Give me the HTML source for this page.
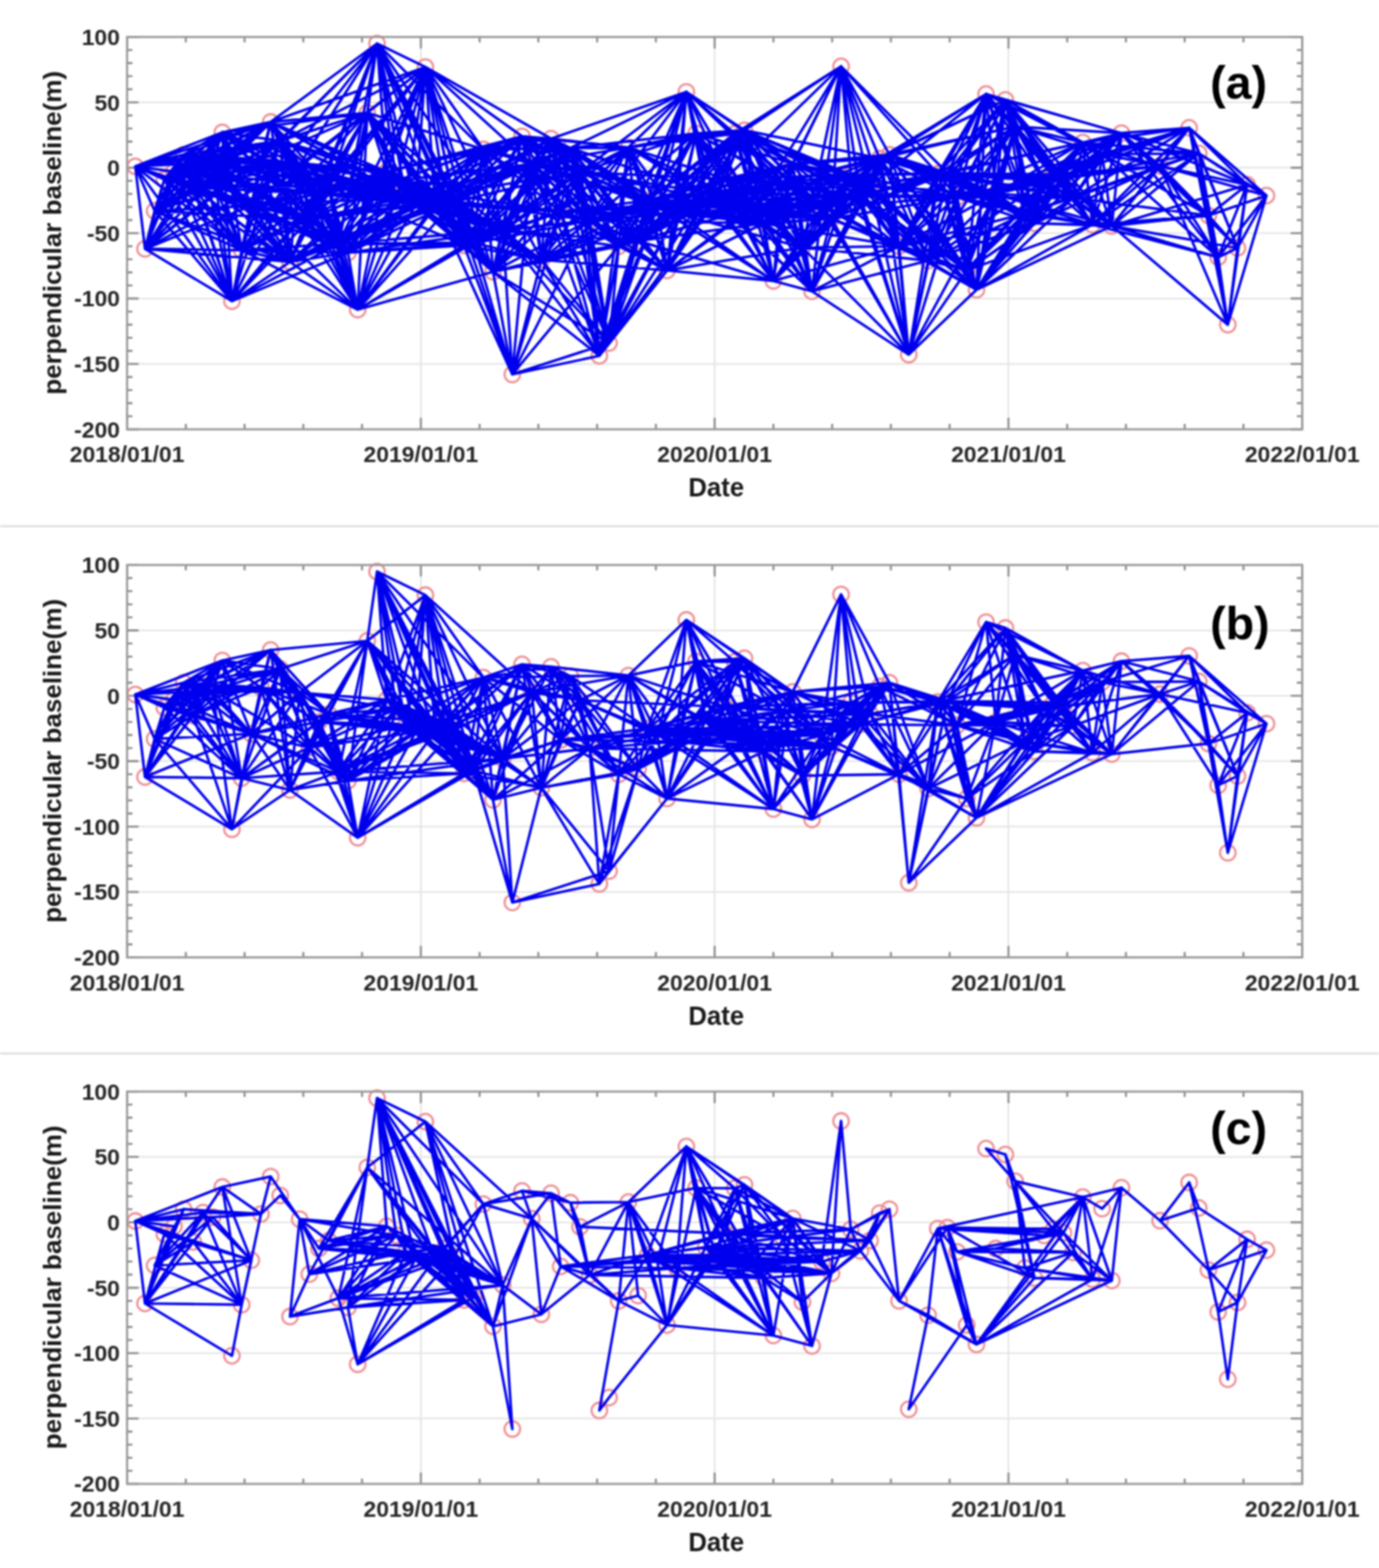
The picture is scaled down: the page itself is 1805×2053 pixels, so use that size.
<!DOCTYPE html>
<html><head><meta charset="utf-8"><title>Interferogram networks</title>
<style>html,body{margin:0;padding:0;background:#fff;}svg{display:block;filter:blur(0.8px);}</style>
</head><body>
<svg width="1805" height="2053" viewBox="0 0 1805 2053" font-family="&quot;Liberation Sans&quot;, Arial, sans-serif">
<rect width="1805" height="2053" fill="#fff"/>
<path d="M0 689H1805M0 1379.2H1805" stroke="#dcdcdc" stroke-width="2.5"/>
<path d="M550.9 48.4V562.1M935.4 48.4V562.1M1320.0 48.4V562.1M166.3 134.0H1704.5M166.3 219.6H1704.5M166.3 305.2H1704.5M166.3 390.9H1704.5M166.3 476.5H1704.5" stroke="#e3e3e3" stroke-width="2" fill="none"/>
<path d="M166.3 562.1v-15M166.3 48.4v15M243.2 562.1v-7M243.2 48.4v7M320.1 562.1v-7M320.1 48.4v7M397.0 562.1v-7M397.0 48.4v7M473.9 562.1v-7M473.9 48.4v7M550.9 562.1v-15M550.9 48.4v15M627.8 562.1v-7M627.8 48.4v7M704.7 562.1v-7M704.7 48.4v7M781.6 562.1v-7M781.6 48.4v7M858.5 562.1v-7M858.5 48.4v7M935.4 562.1v-15M935.4 48.4v15M1012.3 562.1v-7M1012.3 48.4v7M1089.2 562.1v-7M1089.2 48.4v7M1166.1 562.1v-7M1166.1 48.4v7M1243.0 562.1v-7M1243.0 48.4v7M1320.0 562.1v-15M1320.0 48.4v15M1396.9 562.1v-7M1396.9 48.4v7M1473.8 562.1v-7M1473.8 48.4v7M1550.7 562.1v-7M1550.7 48.4v7M1627.6 562.1v-7M1627.6 48.4v7M1704.5 562.1v-15M1704.5 48.4v15M166.3 48.4h15M1704.5 48.4h-15M166.3 65.5h7M1704.5 65.5h-7M166.3 82.6h7M1704.5 82.6h-7M166.3 99.8h7M1704.5 99.8h-7M166.3 116.9h7M1704.5 116.9h-7M166.3 134.0h15M1704.5 134.0h-15M166.3 151.1h7M1704.5 151.1h-7M166.3 168.3h7M1704.5 168.3h-7M166.3 185.4h7M1704.5 185.4h-7M166.3 202.5h7M1704.5 202.5h-7M166.3 219.6h15M1704.5 219.6h-15M166.3 236.8h7M1704.5 236.8h-7M166.3 253.9h7M1704.5 253.9h-7M166.3 271.0h7M1704.5 271.0h-7M166.3 288.1h7M1704.5 288.1h-7M166.3 305.2h15M1704.5 305.2h-15M166.3 322.4h7M1704.5 322.4h-7M166.3 339.5h7M1704.5 339.5h-7M166.3 356.6h7M1704.5 356.6h-7M166.3 373.7h7M1704.5 373.7h-7M166.3 390.9h15M1704.5 390.9h-15M166.3 408.0h7M1704.5 408.0h-7M166.3 425.1h7M1704.5 425.1h-7M166.3 442.2h7M1704.5 442.2h-7M166.3 459.4h7M1704.5 459.4h-7M166.3 476.5h15M1704.5 476.5h-15M166.3 493.6h7M1704.5 493.6h-7M166.3 510.7h7M1704.5 510.7h-7M166.3 527.9h7M1704.5 527.9h-7M166.3 545.0h7M1704.5 545.0h-7M166.3 562.1h15M1704.5 562.1h-15" stroke="#8a8a8a" stroke-width="2.6" fill="none"/>
<g stroke="#ee9096" stroke-width="2.8" fill="none"><circle cx="177.1" cy="217.9" r="10.2"/><circle cx="189.8" cy="325.8" r="10.2"/><circle cx="202.4" cy="276.1" r="10.2"/><circle cx="215.1" cy="235.0" r="10.2"/><circle cx="227.7" cy="224.8" r="10.2"/><circle cx="240.4" cy="202.5" r="10.2"/><circle cx="253.0" cy="245.3" r="10.2"/><circle cx="265.7" cy="206.8" r="10.2"/><circle cx="278.3" cy="212.8" r="10.2"/><circle cx="291.0" cy="173.4" r="10.2"/><circle cx="303.6" cy="394.3" r="10.2"/><circle cx="316.3" cy="327.5" r="10.2"/><circle cx="329.0" cy="269.3" r="10.2"/><circle cx="341.6" cy="208.7" r="10.2"/><circle cx="354.3" cy="159.7" r="10.2"/><circle cx="366.9" cy="184.5" r="10.2"/><circle cx="379.6" cy="342.9" r="10.2"/><circle cx="392.2" cy="215.5" r="10.2"/><circle cx="404.9" cy="287.4" r="10.2"/><circle cx="417.5" cy="253.9" r="10.2"/><circle cx="430.2" cy="243.6" r="10.2"/><circle cx="442.9" cy="318.9" r="10.2"/><circle cx="455.5" cy="330.9" r="10.2"/><circle cx="468.2" cy="405.4" r="10.2"/><circle cx="480.8" cy="147.7" r="10.2"/><circle cx="493.5" cy="57.0" r="10.2"/><circle cx="506.1" cy="224.8" r="10.2"/><circle cx="518.8" cy="236.8" r="10.2"/><circle cx="531.4" cy="258.2" r="10.2"/><circle cx="544.1" cy="267.2" r="10.2"/><circle cx="556.8" cy="87.8" r="10.2"/><circle cx="569.4" cy="266.7" r="10.2"/><circle cx="582.1" cy="253.9" r="10.2"/><circle cx="594.7" cy="264.2" r="10.2"/><circle cx="607.4" cy="321.2" r="10.2"/><circle cx="620.0" cy="317.8" r="10.2"/><circle cx="632.7" cy="195.7" r="10.2"/><circle cx="645.3" cy="355.8" r="10.2"/><circle cx="658.0" cy="301.8" r="10.2"/><circle cx="670.6" cy="490.2" r="10.2"/><circle cx="683.3" cy="178.5" r="10.2"/><circle cx="696.0" cy="214.8" r="10.2"/><circle cx="708.6" cy="340.0" r="10.2"/><circle cx="721.3" cy="181.6" r="10.2"/><circle cx="733.9" cy="277.3" r="10.2"/><circle cx="746.6" cy="193.9" r="10.2"/><circle cx="759.2" cy="225.5" r="10.2"/><circle cx="771.9" cy="288.5" r="10.2"/><circle cx="784.5" cy="465.9" r="10.2"/><circle cx="797.2" cy="449.1" r="10.2"/><circle cx="809.9" cy="322.4" r="10.2"/><circle cx="822.5" cy="193.1" r="10.2"/><circle cx="835.2" cy="315.5" r="10.2"/><circle cx="847.8" cy="262.4" r="10.2"/><circle cx="860.5" cy="271.0" r="10.2"/><circle cx="873.1" cy="354.1" r="10.2"/><circle cx="885.8" cy="279.6" r="10.2"/><circle cx="898.4" cy="120.3" r="10.2"/><circle cx="911.1" cy="174.6" r="10.2"/><circle cx="923.7" cy="252.2" r="10.2"/><circle cx="936.4" cy="262.4" r="10.2"/><circle cx="949.1" cy="234.2" r="10.2"/><circle cx="961.7" cy="175.1" r="10.2"/><circle cx="974.4" cy="170.5" r="10.2"/><circle cx="987.0" cy="271.9" r="10.2"/><circle cx="999.7" cy="292.4" r="10.2"/><circle cx="1012.3" cy="367.8" r="10.2"/><circle cx="1025.0" cy="239.5" r="10.2"/><circle cx="1037.6" cy="214.5" r="10.2"/><circle cx="1050.3" cy="324.1" r="10.2"/><circle cx="1062.9" cy="381.4" r="10.2"/><circle cx="1075.6" cy="271.0" r="10.2"/><circle cx="1088.3" cy="286.4" r="10.2"/><circle cx="1100.9" cy="86.9" r="10.2"/><circle cx="1113.6" cy="228.9" r="10.2"/><circle cx="1126.2" cy="257.0" r="10.2"/><circle cx="1138.9" cy="243.4" r="10.2"/><circle cx="1151.5" cy="207.5" r="10.2"/><circle cx="1164.2" cy="202.5" r="10.2"/><circle cx="1176.8" cy="322.4" r="10.2"/><circle cx="1189.5" cy="464.3" r="10.2"/><circle cx="1214.8" cy="341.2" r="10.2"/><circle cx="1227.5" cy="227.7" r="10.2"/><circle cx="1240.1" cy="226.5" r="10.2"/><circle cx="1252.8" cy="258.2" r="10.2"/><circle cx="1265.4" cy="354.1" r="10.2"/><circle cx="1278.1" cy="379.4" r="10.2"/><circle cx="1290.7" cy="123.1" r="10.2"/><circle cx="1303.4" cy="253.9" r="10.2"/><circle cx="1316.0" cy="130.8" r="10.2"/><circle cx="1328.7" cy="165.7" r="10.2"/><circle cx="1341.4" cy="279.6" r="10.2"/><circle cx="1354.0" cy="292.4" r="10.2"/><circle cx="1366.7" cy="236.8" r="10.2"/><circle cx="1379.3" cy="228.2" r="10.2"/><circle cx="1392.0" cy="233.3" r="10.2"/><circle cx="1404.6" cy="259.0" r="10.2"/><circle cx="1417.3" cy="186.6" r="10.2"/><circle cx="1429.9" cy="294.1" r="10.2"/><circle cx="1442.6" cy="201.7" r="10.2"/><circle cx="1455.3" cy="295.8" r="10.2"/><circle cx="1467.9" cy="174.3" r="10.2"/><circle cx="1518.5" cy="217.4" r="10.2"/><circle cx="1556.5" cy="167.4" r="10.2"/><circle cx="1569.1" cy="200.8" r="10.2"/><circle cx="1581.8" cy="282.1" r="10.2"/><circle cx="1594.5" cy="336.9" r="10.2"/><circle cx="1607.1" cy="425.1" r="10.2"/><circle cx="1619.8" cy="324.6" r="10.2"/><circle cx="1632.4" cy="241.9" r="10.2"/><circle cx="1657.7" cy="256.1" r="10.2"/></g>
<path d="M177.1 217.9L189.8 325.8M177.1 217.9L202.4 276.1M177.1 217.9L215.1 235.0M177.1 217.9L227.7 224.8M177.1 217.9L240.4 202.5M177.1 217.9L253.0 245.3M177.1 217.9L265.7 206.8M177.1 217.9L278.3 212.8M177.1 217.9L291.0 173.4M177.1 217.9L303.6 394.3M177.1 217.9L316.3 327.5M177.1 217.9L329.0 269.3M177.1 217.9L341.6 208.7M177.1 217.9L354.3 159.7M177.1 217.9L366.9 184.5M189.8 325.8L202.4 276.1M189.8 325.8L215.1 235.0M189.8 325.8L227.7 224.8M189.8 325.8L240.4 202.5M189.8 325.8L253.0 245.3M189.8 325.8L265.7 206.8M189.8 325.8L278.3 212.8M189.8 325.8L291.0 173.4M189.8 325.8L303.6 394.3M189.8 325.8L316.3 327.5M189.8 325.8L329.0 269.3M189.8 325.8L341.6 208.7M189.8 325.8L354.3 159.7M189.8 325.8L366.9 184.5M189.8 325.8L379.6 342.9M189.8 325.8L392.2 215.5M202.4 276.1L215.1 235.0M202.4 276.1L227.7 224.8M202.4 276.1L240.4 202.5M202.4 276.1L253.0 245.3M202.4 276.1L265.7 206.8M202.4 276.1L278.3 212.8M202.4 276.1L291.0 173.4M202.4 276.1L303.6 394.3M202.4 276.1L316.3 327.5M202.4 276.1L329.0 269.3M202.4 276.1L341.6 208.7M202.4 276.1L354.3 159.7M202.4 276.1L366.9 184.5M202.4 276.1L379.6 342.9M202.4 276.1L392.2 215.5M202.4 276.1L404.9 287.4M215.1 235.0L227.7 224.8M215.1 235.0L240.4 202.5M215.1 235.0L253.0 245.3M215.1 235.0L265.7 206.8M215.1 235.0L278.3 212.8M215.1 235.0L291.0 173.4M215.1 235.0L303.6 394.3M215.1 235.0L316.3 327.5M215.1 235.0L329.0 269.3M215.1 235.0L341.6 208.7M215.1 235.0L354.3 159.7M215.1 235.0L366.9 184.5M215.1 235.0L379.6 342.9M215.1 235.0L392.2 215.5M215.1 235.0L404.9 287.4M215.1 235.0L417.5 253.9M227.7 224.8L240.4 202.5M227.7 224.8L253.0 245.3M227.7 224.8L265.7 206.8M227.7 224.8L278.3 212.8M227.7 224.8L291.0 173.4M227.7 224.8L303.6 394.3M227.7 224.8L316.3 327.5M227.7 224.8L329.0 269.3M227.7 224.8L341.6 208.7M227.7 224.8L354.3 159.7M227.7 224.8L366.9 184.5M227.7 224.8L379.6 342.9M227.7 224.8L392.2 215.5M227.7 224.8L404.9 287.4M227.7 224.8L417.5 253.9M227.7 224.8L430.2 243.6M240.4 202.5L253.0 245.3M240.4 202.5L265.7 206.8M240.4 202.5L278.3 212.8M240.4 202.5L291.0 173.4M240.4 202.5L303.6 394.3M240.4 202.5L316.3 327.5M240.4 202.5L329.0 269.3M240.4 202.5L341.6 208.7M240.4 202.5L354.3 159.7M240.4 202.5L366.9 184.5M240.4 202.5L379.6 342.9M240.4 202.5L392.2 215.5M240.4 202.5L404.9 287.4M240.4 202.5L417.5 253.9M240.4 202.5L430.2 243.6M253.0 245.3L265.7 206.8M253.0 245.3L278.3 212.8M253.0 245.3L291.0 173.4M253.0 245.3L303.6 394.3M253.0 245.3L316.3 327.5M253.0 245.3L329.0 269.3M253.0 245.3L341.6 208.7M253.0 245.3L354.3 159.7M253.0 245.3L366.9 184.5M253.0 245.3L379.6 342.9M253.0 245.3L392.2 215.5M253.0 245.3L404.9 287.4M253.0 245.3L417.5 253.9M253.0 245.3L430.2 243.6M253.0 245.3L442.9 318.9M253.0 245.3L455.5 330.9M265.7 206.8L278.3 212.8M265.7 206.8L291.0 173.4M265.7 206.8L303.6 394.3M265.7 206.8L316.3 327.5M265.7 206.8L329.0 269.3M265.7 206.8L341.6 208.7M265.7 206.8L354.3 159.7M265.7 206.8L366.9 184.5M265.7 206.8L379.6 342.9M265.7 206.8L392.2 215.5M265.7 206.8L404.9 287.4M265.7 206.8L417.5 253.9M265.7 206.8L430.2 243.6M265.7 206.8L442.9 318.9M265.7 206.8L455.5 330.9M278.3 212.8L291.0 173.4M278.3 212.8L303.6 394.3M278.3 212.8L316.3 327.5M278.3 212.8L329.0 269.3M278.3 212.8L341.6 208.7M278.3 212.8L354.3 159.7M278.3 212.8L366.9 184.5M278.3 212.8L379.6 342.9M278.3 212.8L392.2 215.5M278.3 212.8L404.9 287.4M278.3 212.8L417.5 253.9M278.3 212.8L430.2 243.6M278.3 212.8L442.9 318.9M278.3 212.8L455.5 330.9M278.3 212.8L480.8 147.7M291.0 173.4L303.6 394.3M291.0 173.4L316.3 327.5M291.0 173.4L329.0 269.3M291.0 173.4L341.6 208.7M291.0 173.4L354.3 159.7M291.0 173.4L366.9 184.5M291.0 173.4L379.6 342.9M291.0 173.4L392.2 215.5M291.0 173.4L404.9 287.4M291.0 173.4L417.5 253.9M291.0 173.4L430.2 243.6M291.0 173.4L442.9 318.9M291.0 173.4L455.5 330.9M291.0 173.4L480.8 147.7M303.6 394.3L316.3 327.5M303.6 394.3L329.0 269.3M303.6 394.3L341.6 208.7M303.6 394.3L354.3 159.7M303.6 394.3L366.9 184.5M303.6 394.3L379.6 342.9M303.6 394.3L392.2 215.5M303.6 394.3L404.9 287.4M303.6 394.3L417.5 253.9M303.6 394.3L430.2 243.6M303.6 394.3L442.9 318.9M303.6 394.3L455.5 330.9M316.3 327.5L329.0 269.3M316.3 327.5L341.6 208.7M316.3 327.5L354.3 159.7M316.3 327.5L366.9 184.5M316.3 327.5L379.6 342.9M316.3 327.5L392.2 215.5M316.3 327.5L404.9 287.4M316.3 327.5L417.5 253.9M316.3 327.5L430.2 243.6M316.3 327.5L442.9 318.9M316.3 327.5L455.5 330.9M316.3 327.5L468.2 405.4M316.3 327.5L480.8 147.7M316.3 327.5L506.1 224.8M316.3 327.5L518.8 236.8M329.0 269.3L341.6 208.7M329.0 269.3L354.3 159.7M329.0 269.3L366.9 184.5M329.0 269.3L379.6 342.9M329.0 269.3L392.2 215.5M329.0 269.3L404.9 287.4M329.0 269.3L417.5 253.9M329.0 269.3L430.2 243.6M329.0 269.3L442.9 318.9M329.0 269.3L455.5 330.9M329.0 269.3L468.2 405.4M329.0 269.3L480.8 147.7M329.0 269.3L493.5 57.0M329.0 269.3L506.1 224.8M329.0 269.3L518.8 236.8M329.0 269.3L531.4 258.2M341.6 208.7L354.3 159.7M341.6 208.7L366.9 184.5M341.6 208.7L379.6 342.9M341.6 208.7L392.2 215.5M341.6 208.7L404.9 287.4M341.6 208.7L417.5 253.9M341.6 208.7L430.2 243.6M341.6 208.7L442.9 318.9M341.6 208.7L455.5 330.9M341.6 208.7L468.2 405.4M341.6 208.7L480.8 147.7M341.6 208.7L493.5 57.0M341.6 208.7L506.1 224.8M341.6 208.7L518.8 236.8M341.6 208.7L531.4 258.2M341.6 208.7L544.1 267.2M354.3 159.7L366.9 184.5M354.3 159.7L379.6 342.9M354.3 159.7L392.2 215.5M354.3 159.7L404.9 287.4M354.3 159.7L417.5 253.9M354.3 159.7L430.2 243.6M354.3 159.7L442.9 318.9M354.3 159.7L455.5 330.9M354.3 159.7L468.2 405.4M354.3 159.7L480.8 147.7M354.3 159.7L493.5 57.0M354.3 159.7L506.1 224.8M354.3 159.7L518.8 236.8M354.3 159.7L531.4 258.2M354.3 159.7L544.1 267.2M354.3 159.7L556.8 87.8M366.9 184.5L379.6 342.9M366.9 184.5L392.2 215.5M366.9 184.5L404.9 287.4M366.9 184.5L417.5 253.9M366.9 184.5L430.2 243.6M366.9 184.5L442.9 318.9M366.9 184.5L455.5 330.9M366.9 184.5L468.2 405.4M366.9 184.5L480.8 147.7M366.9 184.5L493.5 57.0M366.9 184.5L506.1 224.8M366.9 184.5L518.8 236.8M366.9 184.5L531.4 258.2M366.9 184.5L544.1 267.2M366.9 184.5L556.8 87.8M379.6 342.9L392.2 215.5M379.6 342.9L404.9 287.4M379.6 342.9L417.5 253.9M379.6 342.9L430.2 243.6M379.6 342.9L442.9 318.9M379.6 342.9L455.5 330.9M379.6 342.9L468.2 405.4M379.6 342.9L480.8 147.7M379.6 342.9L493.5 57.0M379.6 342.9L506.1 224.8M379.6 342.9L518.8 236.8M379.6 342.9L531.4 258.2M379.6 342.9L544.1 267.2M392.2 215.5L404.9 287.4M392.2 215.5L417.5 253.9M392.2 215.5L430.2 243.6M392.2 215.5L442.9 318.9M392.2 215.5L455.5 330.9M392.2 215.5L468.2 405.4M392.2 215.5L480.8 147.7M392.2 215.5L493.5 57.0M392.2 215.5L506.1 224.8M392.2 215.5L518.8 236.8M392.2 215.5L531.4 258.2M392.2 215.5L544.1 267.2M392.2 215.5L556.8 87.8M392.2 215.5L569.4 266.7M404.9 287.4L417.5 253.9M404.9 287.4L430.2 243.6M404.9 287.4L442.9 318.9M404.9 287.4L455.5 330.9M404.9 287.4L468.2 405.4M404.9 287.4L480.8 147.7M404.9 287.4L493.5 57.0M404.9 287.4L506.1 224.8M404.9 287.4L518.8 236.8M404.9 287.4L531.4 258.2M404.9 287.4L544.1 267.2M404.9 287.4L556.8 87.8M404.9 287.4L569.4 266.7M404.9 287.4L582.1 253.9M417.5 253.9L430.2 243.6M417.5 253.9L442.9 318.9M417.5 253.9L455.5 330.9M417.5 253.9L468.2 405.4M417.5 253.9L480.8 147.7M417.5 253.9L493.5 57.0M417.5 253.9L506.1 224.8M417.5 253.9L518.8 236.8M417.5 253.9L531.4 258.2M417.5 253.9L544.1 267.2M417.5 253.9L556.8 87.8M417.5 253.9L569.4 266.7M417.5 253.9L582.1 253.9M417.5 253.9L594.7 264.2M430.2 243.6L442.9 318.9M430.2 243.6L455.5 330.9M430.2 243.6L468.2 405.4M430.2 243.6L480.8 147.7M430.2 243.6L493.5 57.0M430.2 243.6L506.1 224.8M430.2 243.6L518.8 236.8M430.2 243.6L531.4 258.2M430.2 243.6L544.1 267.2M430.2 243.6L556.8 87.8M430.2 243.6L569.4 266.7M430.2 243.6L582.1 253.9M430.2 243.6L594.7 264.2M430.2 243.6L607.4 321.2M442.9 318.9L455.5 330.9M442.9 318.9L468.2 405.4M442.9 318.9L480.8 147.7M442.9 318.9L493.5 57.0M442.9 318.9L506.1 224.8M442.9 318.9L518.8 236.8M442.9 318.9L531.4 258.2M442.9 318.9L544.1 267.2M442.9 318.9L556.8 87.8M442.9 318.9L569.4 266.7M442.9 318.9L582.1 253.9M442.9 318.9L594.7 264.2M442.9 318.9L607.4 321.2M442.9 318.9L620.0 317.8M442.9 318.9L658.0 301.8M455.5 330.9L468.2 405.4M455.5 330.9L480.8 147.7M455.5 330.9L493.5 57.0M455.5 330.9L506.1 224.8M455.5 330.9L518.8 236.8M455.5 330.9L531.4 258.2M455.5 330.9L544.1 267.2M455.5 330.9L556.8 87.8M455.5 330.9L569.4 266.7M455.5 330.9L582.1 253.9M455.5 330.9L594.7 264.2M455.5 330.9L607.4 321.2M455.5 330.9L620.0 317.8M455.5 330.9L658.0 301.8M468.2 405.4L480.8 147.7M468.2 405.4L506.1 224.8M468.2 405.4L518.8 236.8M468.2 405.4L531.4 258.2M468.2 405.4L544.1 267.2M468.2 405.4L569.4 266.7M468.2 405.4L582.1 253.9M468.2 405.4L594.7 264.2M468.2 405.4L607.4 321.2M468.2 405.4L620.0 317.8M468.2 405.4L645.3 355.8M480.8 147.7L493.5 57.0M480.8 147.7L506.1 224.8M480.8 147.7L518.8 236.8M480.8 147.7L531.4 258.2M480.8 147.7L544.1 267.2M480.8 147.7L556.8 87.8M480.8 147.7L569.4 266.7M480.8 147.7L582.1 253.9M480.8 147.7L594.7 264.2M480.8 147.7L607.4 321.2M480.8 147.7L620.0 317.8M480.8 147.7L632.7 195.7M480.8 147.7L645.3 355.8M480.8 147.7L658.0 301.8M493.5 57.0L506.1 224.8M493.5 57.0L518.8 236.8M493.5 57.0L531.4 258.2M493.5 57.0L544.1 267.2M493.5 57.0L556.8 87.8M493.5 57.0L569.4 266.7M493.5 57.0L582.1 253.9M493.5 57.0L594.7 264.2M493.5 57.0L607.4 321.2M493.5 57.0L620.0 317.8M493.5 57.0L632.7 195.7M493.5 57.0L645.3 355.8M493.5 57.0L658.0 301.8M506.1 224.8L518.8 236.8M506.1 224.8L531.4 258.2M506.1 224.8L544.1 267.2M506.1 224.8L556.8 87.8M506.1 224.8L569.4 266.7M506.1 224.8L582.1 253.9M506.1 224.8L594.7 264.2M506.1 224.8L607.4 321.2M506.1 224.8L620.0 317.8M506.1 224.8L632.7 195.7M506.1 224.8L645.3 355.8M506.1 224.8L658.0 301.8M506.1 224.8L683.3 178.5M518.8 236.8L531.4 258.2M518.8 236.8L544.1 267.2M518.8 236.8L556.8 87.8M518.8 236.8L569.4 266.7M518.8 236.8L582.1 253.9M518.8 236.8L594.7 264.2M518.8 236.8L607.4 321.2M518.8 236.8L620.0 317.8M518.8 236.8L632.7 195.7M518.8 236.8L645.3 355.8M518.8 236.8L658.0 301.8M518.8 236.8L683.3 178.5M518.8 236.8L696.0 214.8M531.4 258.2L544.1 267.2M531.4 258.2L556.8 87.8M531.4 258.2L569.4 266.7M531.4 258.2L582.1 253.9M531.4 258.2L594.7 264.2M531.4 258.2L607.4 321.2M531.4 258.2L620.0 317.8M531.4 258.2L632.7 195.7M531.4 258.2L645.3 355.8M531.4 258.2L658.0 301.8M531.4 258.2L683.3 178.5M531.4 258.2L696.0 214.8M544.1 267.2L556.8 87.8M544.1 267.2L569.4 266.7M544.1 267.2L582.1 253.9M544.1 267.2L594.7 264.2M544.1 267.2L607.4 321.2M544.1 267.2L620.0 317.8M544.1 267.2L632.7 195.7M544.1 267.2L645.3 355.8M544.1 267.2L658.0 301.8M544.1 267.2L683.3 178.5M544.1 267.2L696.0 214.8M544.1 267.2L708.6 340.0M556.8 87.8L569.4 266.7M556.8 87.8L582.1 253.9M556.8 87.8L594.7 264.2M556.8 87.8L607.4 321.2M556.8 87.8L620.0 317.8M556.8 87.8L632.7 195.7M556.8 87.8L645.3 355.8M556.8 87.8L658.0 301.8M556.8 87.8L683.3 178.5M556.8 87.8L696.0 214.8M556.8 87.8L721.3 181.6M569.4 266.7L582.1 253.9M569.4 266.7L594.7 264.2M569.4 266.7L607.4 321.2M569.4 266.7L620.0 317.8M569.4 266.7L632.7 195.7M569.4 266.7L645.3 355.8M569.4 266.7L658.0 301.8M569.4 266.7L670.6 490.2M569.4 266.7L683.3 178.5M569.4 266.7L696.0 214.8M569.4 266.7L708.6 340.0M569.4 266.7L721.3 181.6M569.4 266.7L733.9 277.3M569.4 266.7L746.6 193.9M582.1 253.9L594.7 264.2M582.1 253.9L607.4 321.2M582.1 253.9L620.0 317.8M582.1 253.9L632.7 195.7M582.1 253.9L645.3 355.8M582.1 253.9L658.0 301.8M582.1 253.9L670.6 490.2M582.1 253.9L683.3 178.5M582.1 253.9L696.0 214.8M582.1 253.9L708.6 340.0M582.1 253.9L721.3 181.6M582.1 253.9L733.9 277.3M582.1 253.9L746.6 193.9M582.1 253.9L759.2 225.5M594.7 264.2L607.4 321.2M594.7 264.2L620.0 317.8M594.7 264.2L632.7 195.7M594.7 264.2L645.3 355.8M594.7 264.2L658.0 301.8M594.7 264.2L670.6 490.2M594.7 264.2L683.3 178.5M594.7 264.2L696.0 214.8M594.7 264.2L708.6 340.0M594.7 264.2L721.3 181.6M594.7 264.2L733.9 277.3M594.7 264.2L746.6 193.9M594.7 264.2L759.2 225.5M594.7 264.2L771.9 288.5M607.4 321.2L620.0 317.8M607.4 321.2L632.7 195.7M607.4 321.2L645.3 355.8M607.4 321.2L658.0 301.8M607.4 321.2L670.6 490.2M607.4 321.2L683.3 178.5M607.4 321.2L696.0 214.8M607.4 321.2L708.6 340.0M607.4 321.2L721.3 181.6M607.4 321.2L733.9 277.3M607.4 321.2L746.6 193.9M607.4 321.2L759.2 225.5M607.4 321.2L771.9 288.5M620.0 317.8L632.7 195.7M620.0 317.8L645.3 355.8M620.0 317.8L658.0 301.8M620.0 317.8L670.6 490.2M620.0 317.8L683.3 178.5M620.0 317.8L696.0 214.8M620.0 317.8L708.6 340.0M620.0 317.8L721.3 181.6M620.0 317.8L733.9 277.3M620.0 317.8L746.6 193.9M620.0 317.8L759.2 225.5M620.0 317.8L771.9 288.5M632.7 195.7L645.3 355.8M632.7 195.7L658.0 301.8M632.7 195.7L683.3 178.5M632.7 195.7L696.0 214.8M632.7 195.7L708.6 340.0M632.7 195.7L721.3 181.6M632.7 195.7L733.9 277.3M632.7 195.7L746.6 193.9M632.7 195.7L759.2 225.5M632.7 195.7L771.9 288.5M645.3 355.8L658.0 301.8M645.3 355.8L670.6 490.2M645.3 355.8L683.3 178.5M645.3 355.8L696.0 214.8M645.3 355.8L708.6 340.0M645.3 355.8L721.3 181.6M645.3 355.8L733.9 277.3M645.3 355.8L746.6 193.9M645.3 355.8L759.2 225.5M645.3 355.8L771.9 288.5M645.3 355.8L784.5 465.9M645.3 355.8L797.2 449.1M645.3 355.8L809.9 322.4M658.0 301.8L670.6 490.2M658.0 301.8L683.3 178.5M658.0 301.8L696.0 214.8M658.0 301.8L708.6 340.0M658.0 301.8L721.3 181.6M658.0 301.8L733.9 277.3M658.0 301.8L746.6 193.9M658.0 301.8L759.2 225.5M658.0 301.8L771.9 288.5M658.0 301.8L784.5 465.9M658.0 301.8L797.2 449.1M658.0 301.8L809.9 322.4M658.0 301.8L822.5 193.1M658.0 301.8L835.2 315.5M670.6 490.2L696.0 214.8M670.6 490.2L708.6 340.0M670.6 490.2L733.9 277.3M670.6 490.2L771.9 288.5M670.6 490.2L784.5 465.9M670.6 490.2L797.2 449.1M670.6 490.2L809.9 322.4M683.3 178.5L696.0 214.8M683.3 178.5L708.6 340.0M683.3 178.5L721.3 181.6M683.3 178.5L733.9 277.3M683.3 178.5L746.6 193.9M683.3 178.5L759.2 225.5M683.3 178.5L771.9 288.5M683.3 178.5L809.9 322.4M683.3 178.5L822.5 193.1M683.3 178.5L835.2 315.5M683.3 178.5L847.8 262.4M696.0 214.8L708.6 340.0M696.0 214.8L721.3 181.6M696.0 214.8L733.9 277.3M696.0 214.8L746.6 193.9M696.0 214.8L759.2 225.5M696.0 214.8L771.9 288.5M696.0 214.8L784.5 465.9M696.0 214.8L797.2 449.1M696.0 214.8L809.9 322.4M696.0 214.8L822.5 193.1M696.0 214.8L835.2 315.5M696.0 214.8L847.8 262.4M696.0 214.8L860.5 271.0M708.6 340.0L721.3 181.6M708.6 340.0L733.9 277.3M708.6 340.0L746.6 193.9M708.6 340.0L759.2 225.5M708.6 340.0L771.9 288.5M708.6 340.0L784.5 465.9M708.6 340.0L797.2 449.1M708.6 340.0L809.9 322.4M708.6 340.0L822.5 193.1M708.6 340.0L835.2 315.5M708.6 340.0L847.8 262.4M708.6 340.0L860.5 271.0M708.6 340.0L873.1 354.1M708.6 340.0L885.8 279.6M721.3 181.6L733.9 277.3M721.3 181.6L746.6 193.9M721.3 181.6L759.2 225.5M721.3 181.6L771.9 288.5M721.3 181.6L797.2 449.1M721.3 181.6L809.9 322.4M721.3 181.6L822.5 193.1M721.3 181.6L835.2 315.5M721.3 181.6L847.8 262.4M721.3 181.6L860.5 271.0M721.3 181.6L885.8 279.6M721.3 181.6L898.4 120.3M733.9 277.3L746.6 193.9M733.9 277.3L759.2 225.5M733.9 277.3L771.9 288.5M733.9 277.3L784.5 465.9M733.9 277.3L797.2 449.1M733.9 277.3L809.9 322.4M733.9 277.3L822.5 193.1M733.9 277.3L835.2 315.5M733.9 277.3L847.8 262.4M733.9 277.3L860.5 271.0M733.9 277.3L873.1 354.1M733.9 277.3L885.8 279.6M733.9 277.3L936.4 262.4M746.6 193.9L759.2 225.5M746.6 193.9L771.9 288.5M746.6 193.9L784.5 465.9M746.6 193.9L797.2 449.1M746.6 193.9L809.9 322.4M746.6 193.9L822.5 193.1M746.6 193.9L835.2 315.5M746.6 193.9L847.8 262.4M746.6 193.9L860.5 271.0M746.6 193.9L873.1 354.1M746.6 193.9L885.8 279.6M746.6 193.9L898.4 120.3M746.6 193.9L911.1 174.6M746.6 193.9L923.7 252.2M759.2 225.5L771.9 288.5M759.2 225.5L784.5 465.9M759.2 225.5L797.2 449.1M759.2 225.5L809.9 322.4M759.2 225.5L822.5 193.1M759.2 225.5L835.2 315.5M759.2 225.5L847.8 262.4M759.2 225.5L860.5 271.0M759.2 225.5L873.1 354.1M759.2 225.5L885.8 279.6M759.2 225.5L898.4 120.3M759.2 225.5L911.1 174.6M759.2 225.5L923.7 252.2M759.2 225.5L936.4 262.4M759.2 225.5L949.1 234.2M771.9 288.5L784.5 465.9M771.9 288.5L797.2 449.1M771.9 288.5L809.9 322.4M771.9 288.5L822.5 193.1M771.9 288.5L835.2 315.5M771.9 288.5L847.8 262.4M771.9 288.5L860.5 271.0M771.9 288.5L873.1 354.1M771.9 288.5L885.8 279.6M771.9 288.5L898.4 120.3M771.9 288.5L911.1 174.6M771.9 288.5L923.7 252.2M771.9 288.5L936.4 262.4M771.9 288.5L949.1 234.2M771.9 288.5L999.7 292.4M784.5 465.9L797.2 449.1M784.5 465.9L809.9 322.4M784.5 465.9L822.5 193.1M784.5 465.9L835.2 315.5M784.5 465.9L847.8 262.4M784.5 465.9L860.5 271.0M784.5 465.9L873.1 354.1M784.5 465.9L885.8 279.6M797.2 449.1L809.9 322.4M797.2 449.1L822.5 193.1M797.2 449.1L835.2 315.5M797.2 449.1L847.8 262.4M797.2 449.1L860.5 271.0M797.2 449.1L873.1 354.1M797.2 449.1L885.8 279.6M797.2 449.1L923.7 252.2M797.2 449.1L936.4 262.4M809.9 322.4L822.5 193.1M809.9 322.4L835.2 315.5M809.9 322.4L847.8 262.4M809.9 322.4L860.5 271.0M809.9 322.4L873.1 354.1M809.9 322.4L885.8 279.6M809.9 322.4L898.4 120.3M809.9 322.4L911.1 174.6M809.9 322.4L923.7 252.2M809.9 322.4L936.4 262.4M809.9 322.4L949.1 234.2M809.9 322.4L961.7 175.1M809.9 322.4L987.0 271.9M822.5 193.1L835.2 315.5M822.5 193.1L847.8 262.4M822.5 193.1L860.5 271.0M822.5 193.1L873.1 354.1M822.5 193.1L885.8 279.6M822.5 193.1L898.4 120.3M822.5 193.1L911.1 174.6M822.5 193.1L923.7 252.2M822.5 193.1L936.4 262.4M822.5 193.1L949.1 234.2M822.5 193.1L961.7 175.1M822.5 193.1L974.4 170.5M822.5 193.1L987.0 271.9M835.2 315.5L847.8 262.4M835.2 315.5L860.5 271.0M835.2 315.5L873.1 354.1M835.2 315.5L885.8 279.6M835.2 315.5L898.4 120.3M835.2 315.5L911.1 174.6M835.2 315.5L923.7 252.2M835.2 315.5L936.4 262.4M835.2 315.5L949.1 234.2M835.2 315.5L961.7 175.1M835.2 315.5L974.4 170.5M835.2 315.5L987.0 271.9M835.2 315.5L999.7 292.4M835.2 315.5L1012.3 367.8M847.8 262.4L860.5 271.0M847.8 262.4L873.1 354.1M847.8 262.4L885.8 279.6M847.8 262.4L898.4 120.3M847.8 262.4L911.1 174.6M847.8 262.4L923.7 252.2M847.8 262.4L936.4 262.4M847.8 262.4L949.1 234.2M847.8 262.4L961.7 175.1M847.8 262.4L974.4 170.5M847.8 262.4L987.0 271.9M847.8 262.4L999.7 292.4M847.8 262.4L1012.3 367.8M847.8 262.4L1025.0 239.5M847.8 262.4L1037.6 214.5M847.8 262.4L1075.6 271.0M847.8 262.4L1088.3 286.4M860.5 271.0L873.1 354.1M860.5 271.0L885.8 279.6M860.5 271.0L898.4 120.3M860.5 271.0L911.1 174.6M860.5 271.0L923.7 252.2M860.5 271.0L936.4 262.4M860.5 271.0L949.1 234.2M860.5 271.0L961.7 175.1M860.5 271.0L974.4 170.5M860.5 271.0L987.0 271.9M860.5 271.0L999.7 292.4M860.5 271.0L1012.3 367.8M860.5 271.0L1025.0 239.5M860.5 271.0L1037.6 214.5M860.5 271.0L1075.6 271.0M860.5 271.0L1088.3 286.4M873.1 354.1L885.8 279.6M873.1 354.1L898.4 120.3M873.1 354.1L911.1 174.6M873.1 354.1L923.7 252.2M873.1 354.1L936.4 262.4M873.1 354.1L949.1 234.2M873.1 354.1L961.7 175.1M873.1 354.1L974.4 170.5M873.1 354.1L987.0 271.9M873.1 354.1L999.7 292.4M873.1 354.1L1012.3 367.8M873.1 354.1L1025.0 239.5M873.1 354.1L1050.3 324.1M885.8 279.6L898.4 120.3M885.8 279.6L911.1 174.6M885.8 279.6L923.7 252.2M885.8 279.6L936.4 262.4M885.8 279.6L949.1 234.2M885.8 279.6L961.7 175.1M885.8 279.6L974.4 170.5M885.8 279.6L987.0 271.9M885.8 279.6L999.7 292.4M885.8 279.6L1012.3 367.8M885.8 279.6L1025.0 239.5M885.8 279.6L1037.6 214.5M885.8 279.6L1050.3 324.1M885.8 279.6L1075.6 271.0M885.8 279.6L1088.3 286.4M898.4 120.3L911.1 174.6M898.4 120.3L923.7 252.2M898.4 120.3L936.4 262.4M898.4 120.3L949.1 234.2M898.4 120.3L961.7 175.1M898.4 120.3L974.4 170.5M898.4 120.3L987.0 271.9M898.4 120.3L999.7 292.4M898.4 120.3L1025.0 239.5M898.4 120.3L1037.6 214.5M911.1 174.6L923.7 252.2M911.1 174.6L936.4 262.4M911.1 174.6L949.1 234.2M911.1 174.6L961.7 175.1M911.1 174.6L974.4 170.5M911.1 174.6L987.0 271.9M911.1 174.6L999.7 292.4M911.1 174.6L1012.3 367.8M911.1 174.6L1025.0 239.5M911.1 174.6L1037.6 214.5M911.1 174.6L1050.3 324.1M911.1 174.6L1075.6 271.0M923.7 252.2L936.4 262.4M923.7 252.2L949.1 234.2M923.7 252.2L961.7 175.1M923.7 252.2L974.4 170.5M923.7 252.2L987.0 271.9M923.7 252.2L999.7 292.4M923.7 252.2L1012.3 367.8M923.7 252.2L1025.0 239.5M923.7 252.2L1037.6 214.5M923.7 252.2L1050.3 324.1M923.7 252.2L1062.9 381.4M923.7 252.2L1075.6 271.0M923.7 252.2L1088.3 286.4M923.7 252.2L1126.2 257.0M923.7 252.2L1138.9 243.4M936.4 262.4L949.1 234.2M936.4 262.4L961.7 175.1M936.4 262.4L974.4 170.5M936.4 262.4L987.0 271.9M936.4 262.4L999.7 292.4M936.4 262.4L1012.3 367.8M936.4 262.4L1025.0 239.5M936.4 262.4L1037.6 214.5M936.4 262.4L1050.3 324.1M936.4 262.4L1062.9 381.4M936.4 262.4L1075.6 271.0M936.4 262.4L1088.3 286.4M936.4 262.4L1113.6 228.9M936.4 262.4L1126.2 257.0M949.1 234.2L961.7 175.1M949.1 234.2L974.4 170.5M949.1 234.2L987.0 271.9M949.1 234.2L999.7 292.4M949.1 234.2L1012.3 367.8M949.1 234.2L1025.0 239.5M949.1 234.2L1037.6 214.5M949.1 234.2L1050.3 324.1M949.1 234.2L1062.9 381.4M949.1 234.2L1075.6 271.0M949.1 234.2L1088.3 286.4M949.1 234.2L1100.9 86.9M949.1 234.2L1113.6 228.9M949.1 234.2L1126.2 257.0M949.1 234.2L1138.9 243.4M961.7 175.1L974.4 170.5M961.7 175.1L987.0 271.9M961.7 175.1L999.7 292.4M961.7 175.1L1012.3 367.8M961.7 175.1L1025.0 239.5M961.7 175.1L1037.6 214.5M961.7 175.1L1050.3 324.1M961.7 175.1L1062.9 381.4M961.7 175.1L1075.6 271.0M961.7 175.1L1088.3 286.4M961.7 175.1L1100.9 86.9M961.7 175.1L1113.6 228.9M961.7 175.1L1126.2 257.0M961.7 175.1L1138.9 243.4M974.4 170.5L987.0 271.9M974.4 170.5L999.7 292.4M974.4 170.5L1012.3 367.8M974.4 170.5L1025.0 239.5M974.4 170.5L1037.6 214.5M974.4 170.5L1050.3 324.1M974.4 170.5L1062.9 381.4M974.4 170.5L1075.6 271.0M974.4 170.5L1088.3 286.4M974.4 170.5L1100.9 86.9M974.4 170.5L1113.6 228.9M974.4 170.5L1126.2 257.0M974.4 170.5L1138.9 243.4M974.4 170.5L1151.5 207.5M987.0 271.9L999.7 292.4M987.0 271.9L1012.3 367.8M987.0 271.9L1025.0 239.5M987.0 271.9L1037.6 214.5M987.0 271.9L1050.3 324.1M987.0 271.9L1062.9 381.4M987.0 271.9L1075.6 271.0M987.0 271.9L1088.3 286.4M987.0 271.9L1100.9 86.9M987.0 271.9L1113.6 228.9M987.0 271.9L1126.2 257.0M987.0 271.9L1138.9 243.4M987.0 271.9L1151.5 207.5M987.0 271.9L1164.2 202.5M999.7 292.4L1012.3 367.8M999.7 292.4L1025.0 239.5M999.7 292.4L1037.6 214.5M999.7 292.4L1050.3 324.1M999.7 292.4L1062.9 381.4M999.7 292.4L1075.6 271.0M999.7 292.4L1088.3 286.4M999.7 292.4L1100.9 86.9M999.7 292.4L1113.6 228.9M999.7 292.4L1126.2 257.0M999.7 292.4L1138.9 243.4M999.7 292.4L1151.5 207.5M999.7 292.4L1164.2 202.5M999.7 292.4L1176.8 322.4M1012.3 367.8L1025.0 239.5M1012.3 367.8L1037.6 214.5M1012.3 367.8L1050.3 324.1M1012.3 367.8L1062.9 381.4M1012.3 367.8L1075.6 271.0M1012.3 367.8L1088.3 286.4M1012.3 367.8L1113.6 228.9M1012.3 367.8L1126.2 257.0M1012.3 367.8L1138.9 243.4M1012.3 367.8L1151.5 207.5M1012.3 367.8L1164.2 202.5M1012.3 367.8L1176.8 322.4M1025.0 239.5L1037.6 214.5M1025.0 239.5L1050.3 324.1M1025.0 239.5L1062.9 381.4M1025.0 239.5L1075.6 271.0M1025.0 239.5L1088.3 286.4M1025.0 239.5L1100.9 86.9M1025.0 239.5L1113.6 228.9M1025.0 239.5L1126.2 257.0M1025.0 239.5L1138.9 243.4M1025.0 239.5L1151.5 207.5M1025.0 239.5L1164.2 202.5M1025.0 239.5L1176.8 322.4M1037.6 214.5L1050.3 324.1M1037.6 214.5L1062.9 381.4M1037.6 214.5L1075.6 271.0M1037.6 214.5L1088.3 286.4M1037.6 214.5L1100.9 86.9M1037.6 214.5L1113.6 228.9M1037.6 214.5L1126.2 257.0M1037.6 214.5L1138.9 243.4M1037.6 214.5L1151.5 207.5M1037.6 214.5L1164.2 202.5M1037.6 214.5L1176.8 322.4M1050.3 324.1L1062.9 381.4M1050.3 324.1L1075.6 271.0M1050.3 324.1L1088.3 286.4M1050.3 324.1L1100.9 86.9M1050.3 324.1L1113.6 228.9M1050.3 324.1L1126.2 257.0M1050.3 324.1L1138.9 243.4M1050.3 324.1L1151.5 207.5M1050.3 324.1L1164.2 202.5M1050.3 324.1L1176.8 322.4M1050.3 324.1L1189.5 464.3M1050.3 324.1L1214.8 341.2M1062.9 381.4L1075.6 271.0M1062.9 381.4L1088.3 286.4M1062.9 381.4L1113.6 228.9M1062.9 381.4L1126.2 257.0M1062.9 381.4L1138.9 243.4M1062.9 381.4L1151.5 207.5M1062.9 381.4L1164.2 202.5M1062.9 381.4L1176.8 322.4M1062.9 381.4L1189.5 464.3M1062.9 381.4L1214.8 341.2M1075.6 271.0L1088.3 286.4M1075.6 271.0L1100.9 86.9M1075.6 271.0L1113.6 228.9M1075.6 271.0L1126.2 257.0M1075.6 271.0L1138.9 243.4M1075.6 271.0L1151.5 207.5M1075.6 271.0L1164.2 202.5M1075.6 271.0L1176.8 322.4M1075.6 271.0L1189.5 464.3M1075.6 271.0L1214.8 341.2M1075.6 271.0L1227.5 227.7M1075.6 271.0L1240.1 226.5M1075.6 271.0L1252.8 258.2M1088.3 286.4L1100.9 86.9M1088.3 286.4L1113.6 228.9M1088.3 286.4L1126.2 257.0M1088.3 286.4L1138.9 243.4M1088.3 286.4L1151.5 207.5M1088.3 286.4L1164.2 202.5M1088.3 286.4L1176.8 322.4M1088.3 286.4L1189.5 464.3M1088.3 286.4L1214.8 341.2M1088.3 286.4L1227.5 227.7M1088.3 286.4L1240.1 226.5M1088.3 286.4L1252.8 258.2M1088.3 286.4L1265.4 354.1M1100.9 86.9L1113.6 228.9M1100.9 86.9L1126.2 257.0M1100.9 86.9L1138.9 243.4M1100.9 86.9L1151.5 207.5M1100.9 86.9L1164.2 202.5M1100.9 86.9L1176.8 322.4M1100.9 86.9L1227.5 227.7M1100.9 86.9L1240.1 226.5M1113.6 228.9L1126.2 257.0M1113.6 228.9L1138.9 243.4M1113.6 228.9L1151.5 207.5M1113.6 228.9L1164.2 202.5M1113.6 228.9L1176.8 322.4M1113.6 228.9L1189.5 464.3M1113.6 228.9L1214.8 341.2M1113.6 228.9L1227.5 227.7M1113.6 228.9L1240.1 226.5M1113.6 228.9L1252.8 258.2M1113.6 228.9L1265.4 354.1M1126.2 257.0L1138.9 243.4M1126.2 257.0L1151.5 207.5M1126.2 257.0L1164.2 202.5M1126.2 257.0L1176.8 322.4M1126.2 257.0L1189.5 464.3M1126.2 257.0L1214.8 341.2M1126.2 257.0L1227.5 227.7M1126.2 257.0L1240.1 226.5M1126.2 257.0L1252.8 258.2M1126.2 257.0L1265.4 354.1M1126.2 257.0L1278.1 379.4M1126.2 257.0L1303.4 253.9M1138.9 243.4L1151.5 207.5M1138.9 243.4L1164.2 202.5M1138.9 243.4L1176.8 322.4M1138.9 243.4L1189.5 464.3M1138.9 243.4L1214.8 341.2M1138.9 243.4L1227.5 227.7M1138.9 243.4L1240.1 226.5M1138.9 243.4L1252.8 258.2M1138.9 243.4L1265.4 354.1M1138.9 243.4L1278.1 379.4M1138.9 243.4L1290.7 123.1M1138.9 243.4L1303.4 253.9M1151.5 207.5L1164.2 202.5M1151.5 207.5L1176.8 322.4M1151.5 207.5L1189.5 464.3M1151.5 207.5L1214.8 341.2M1151.5 207.5L1227.5 227.7M1151.5 207.5L1240.1 226.5M1151.5 207.5L1252.8 258.2M1151.5 207.5L1265.4 354.1M1151.5 207.5L1278.1 379.4M1151.5 207.5L1290.7 123.1M1151.5 207.5L1303.4 253.9M1151.5 207.5L1316.0 130.8M1151.5 207.5L1328.7 165.7M1164.2 202.5L1176.8 322.4M1164.2 202.5L1189.5 464.3M1164.2 202.5L1214.8 341.2M1164.2 202.5L1227.5 227.7M1164.2 202.5L1240.1 226.5M1164.2 202.5L1252.8 258.2M1164.2 202.5L1265.4 354.1M1164.2 202.5L1278.1 379.4M1164.2 202.5L1290.7 123.1M1164.2 202.5L1303.4 253.9M1164.2 202.5L1316.0 130.8M1164.2 202.5L1328.7 165.7M1164.2 202.5L1341.4 279.6M1176.8 322.4L1189.5 464.3M1176.8 322.4L1214.8 341.2M1176.8 322.4L1227.5 227.7M1176.8 322.4L1240.1 226.5M1176.8 322.4L1252.8 258.2M1176.8 322.4L1265.4 354.1M1176.8 322.4L1278.1 379.4M1176.8 322.4L1290.7 123.1M1176.8 322.4L1303.4 253.9M1176.8 322.4L1316.0 130.8M1176.8 322.4L1328.7 165.7M1176.8 322.4L1341.4 279.6M1176.8 322.4L1354.0 292.4M1189.5 464.3L1214.8 341.2M1189.5 464.3L1227.5 227.7M1189.5 464.3L1240.1 226.5M1189.5 464.3L1252.8 258.2M1189.5 464.3L1265.4 354.1M1189.5 464.3L1278.1 379.4M1189.5 464.3L1303.4 253.9M1214.8 341.2L1227.5 227.7M1214.8 341.2L1240.1 226.5M1214.8 341.2L1252.8 258.2M1214.8 341.2L1265.4 354.1M1214.8 341.2L1278.1 379.4M1214.8 341.2L1290.7 123.1M1214.8 341.2L1303.4 253.9M1214.8 341.2L1316.0 130.8M1214.8 341.2L1328.7 165.7M1214.8 341.2L1341.4 279.6M1214.8 341.2L1354.0 292.4M1214.8 341.2L1366.7 236.8M1214.8 341.2L1379.3 228.2M1227.5 227.7L1240.1 226.5M1227.5 227.7L1252.8 258.2M1227.5 227.7L1265.4 354.1M1227.5 227.7L1278.1 379.4M1227.5 227.7L1290.7 123.1M1227.5 227.7L1303.4 253.9M1227.5 227.7L1316.0 130.8M1227.5 227.7L1328.7 165.7M1227.5 227.7L1341.4 279.6M1227.5 227.7L1354.0 292.4M1227.5 227.7L1366.7 236.8M1227.5 227.7L1379.3 228.2M1227.5 227.7L1392.0 233.3M1227.5 227.7L1404.6 259.0M1227.5 227.7L1417.3 186.6M1240.1 226.5L1252.8 258.2M1240.1 226.5L1265.4 354.1M1240.1 226.5L1278.1 379.4M1240.1 226.5L1290.7 123.1M1240.1 226.5L1303.4 253.9M1240.1 226.5L1316.0 130.8M1240.1 226.5L1328.7 165.7M1240.1 226.5L1341.4 279.6M1240.1 226.5L1354.0 292.4M1240.1 226.5L1366.7 236.8M1240.1 226.5L1379.3 228.2M1240.1 226.5L1392.0 233.3M1240.1 226.5L1404.6 259.0M1240.1 226.5L1417.3 186.6M1252.8 258.2L1265.4 354.1M1252.8 258.2L1278.1 379.4M1252.8 258.2L1290.7 123.1M1252.8 258.2L1303.4 253.9M1252.8 258.2L1316.0 130.8M1252.8 258.2L1328.7 165.7M1252.8 258.2L1341.4 279.6M1252.8 258.2L1354.0 292.4M1252.8 258.2L1366.7 236.8M1252.8 258.2L1379.3 228.2M1252.8 258.2L1392.0 233.3M1252.8 258.2L1404.6 259.0M1252.8 258.2L1417.3 186.6M1252.8 258.2L1429.9 294.1M1265.4 354.1L1278.1 379.4M1265.4 354.1L1290.7 123.1M1265.4 354.1L1303.4 253.9M1265.4 354.1L1316.0 130.8M1265.4 354.1L1328.7 165.7M1265.4 354.1L1341.4 279.6M1265.4 354.1L1354.0 292.4M1265.4 354.1L1366.7 236.8M1265.4 354.1L1379.3 228.2M1265.4 354.1L1392.0 233.3M1265.4 354.1L1404.6 259.0M1265.4 354.1L1417.3 186.6M1265.4 354.1L1429.9 294.1M1278.1 379.4L1290.7 123.1M1278.1 379.4L1303.4 253.9M1278.1 379.4L1316.0 130.8M1278.1 379.4L1328.7 165.7M1278.1 379.4L1341.4 279.6M1278.1 379.4L1354.0 292.4M1278.1 379.4L1366.7 236.8M1278.1 379.4L1379.3 228.2M1278.1 379.4L1392.0 233.3M1278.1 379.4L1404.6 259.0M1278.1 379.4L1417.3 186.6M1278.1 379.4L1429.9 294.1M1278.1 379.4L1455.3 295.8M1290.7 123.1L1303.4 253.9M1290.7 123.1L1316.0 130.8M1290.7 123.1L1328.7 165.7M1290.7 123.1L1341.4 279.6M1290.7 123.1L1354.0 292.4M1290.7 123.1L1366.7 236.8M1290.7 123.1L1379.3 228.2M1290.7 123.1L1392.0 233.3M1290.7 123.1L1404.6 259.0M1290.7 123.1L1417.3 186.6M1290.7 123.1L1429.9 294.1M1290.7 123.1L1442.6 201.7M1290.7 123.1L1467.9 174.3M1303.4 253.9L1316.0 130.8M1303.4 253.9L1328.7 165.7M1303.4 253.9L1341.4 279.6M1303.4 253.9L1354.0 292.4M1303.4 253.9L1366.7 236.8M1303.4 253.9L1379.3 228.2M1303.4 253.9L1392.0 233.3M1303.4 253.9L1404.6 259.0M1303.4 253.9L1417.3 186.6M1303.4 253.9L1429.9 294.1M1303.4 253.9L1442.6 201.7M1303.4 253.9L1455.3 295.8M1303.4 253.9L1467.9 174.3M1316.0 130.8L1328.7 165.7M1316.0 130.8L1341.4 279.6M1316.0 130.8L1354.0 292.4M1316.0 130.8L1366.7 236.8M1316.0 130.8L1379.3 228.2M1316.0 130.8L1392.0 233.3M1316.0 130.8L1404.6 259.0M1316.0 130.8L1417.3 186.6M1316.0 130.8L1429.9 294.1M1316.0 130.8L1442.6 201.7M1316.0 130.8L1455.3 295.8M1316.0 130.8L1467.9 174.3M1328.7 165.7L1341.4 279.6M1328.7 165.7L1354.0 292.4M1328.7 165.7L1366.7 236.8M1328.7 165.7L1379.3 228.2M1328.7 165.7L1392.0 233.3M1328.7 165.7L1404.6 259.0M1328.7 165.7L1417.3 186.6M1328.7 165.7L1429.9 294.1M1328.7 165.7L1442.6 201.7M1328.7 165.7L1455.3 295.8M1328.7 165.7L1467.9 174.3M1341.4 279.6L1354.0 292.4M1341.4 279.6L1366.7 236.8M1341.4 279.6L1379.3 228.2M1341.4 279.6L1392.0 233.3M1341.4 279.6L1404.6 259.0M1341.4 279.6L1417.3 186.6M1341.4 279.6L1429.9 294.1M1341.4 279.6L1442.6 201.7M1341.4 279.6L1455.3 295.8M1341.4 279.6L1467.9 174.3M1341.4 279.6L1518.5 217.4M1354.0 292.4L1366.7 236.8M1354.0 292.4L1379.3 228.2M1354.0 292.4L1392.0 233.3M1354.0 292.4L1404.6 259.0M1354.0 292.4L1417.3 186.6M1354.0 292.4L1429.9 294.1M1354.0 292.4L1442.6 201.7M1354.0 292.4L1455.3 295.8M1354.0 292.4L1467.9 174.3M1354.0 292.4L1518.5 217.4M1366.7 236.8L1379.3 228.2M1366.7 236.8L1392.0 233.3M1366.7 236.8L1404.6 259.0M1366.7 236.8L1417.3 186.6M1366.7 236.8L1429.9 294.1M1366.7 236.8L1442.6 201.7M1366.7 236.8L1455.3 295.8M1366.7 236.8L1467.9 174.3M1366.7 236.8L1518.5 217.4M1379.3 228.2L1392.0 233.3M1379.3 228.2L1404.6 259.0M1379.3 228.2L1417.3 186.6M1379.3 228.2L1429.9 294.1M1379.3 228.2L1442.6 201.7M1379.3 228.2L1455.3 295.8M1379.3 228.2L1467.9 174.3M1379.3 228.2L1518.5 217.4M1379.3 228.2L1556.5 167.4M1392.0 233.3L1404.6 259.0M1392.0 233.3L1417.3 186.6M1392.0 233.3L1429.9 294.1M1392.0 233.3L1442.6 201.7M1392.0 233.3L1455.3 295.8M1392.0 233.3L1467.9 174.3M1392.0 233.3L1518.5 217.4M1392.0 233.3L1556.5 167.4M1392.0 233.3L1569.1 200.8M1404.6 259.0L1417.3 186.6M1404.6 259.0L1429.9 294.1M1404.6 259.0L1442.6 201.7M1404.6 259.0L1455.3 295.8M1404.6 259.0L1467.9 174.3M1404.6 259.0L1518.5 217.4M1404.6 259.0L1556.5 167.4M1404.6 259.0L1569.1 200.8M1404.6 259.0L1581.8 282.1M1417.3 186.6L1429.9 294.1M1417.3 186.6L1442.6 201.7M1417.3 186.6L1455.3 295.8M1417.3 186.6L1467.9 174.3M1417.3 186.6L1518.5 217.4M1417.3 186.6L1556.5 167.4M1417.3 186.6L1569.1 200.8M1417.3 186.6L1581.8 282.1M1429.9 294.1L1442.6 201.7M1429.9 294.1L1455.3 295.8M1429.9 294.1L1467.9 174.3M1429.9 294.1L1518.5 217.4M1429.9 294.1L1556.5 167.4M1429.9 294.1L1569.1 200.8M1429.9 294.1L1581.8 282.1M1429.9 294.1L1594.5 336.9M1442.6 201.7L1455.3 295.8M1442.6 201.7L1467.9 174.3M1442.6 201.7L1518.5 217.4M1442.6 201.7L1556.5 167.4M1442.6 201.7L1569.1 200.8M1442.6 201.7L1581.8 282.1M1442.6 201.7L1594.5 336.9M1455.3 295.8L1467.9 174.3M1455.3 295.8L1518.5 217.4M1455.3 295.8L1556.5 167.4M1455.3 295.8L1569.1 200.8M1455.3 295.8L1581.8 282.1M1455.3 295.8L1594.5 336.9M1455.3 295.8L1607.1 425.1M1455.3 295.8L1619.8 324.6M1455.3 295.8L1632.4 241.9M1467.9 174.3L1518.5 217.4M1467.9 174.3L1556.5 167.4M1467.9 174.3L1569.1 200.8M1467.9 174.3L1581.8 282.1M1467.9 174.3L1594.5 336.9M1467.9 174.3L1619.8 324.6M1467.9 174.3L1632.4 241.9M1518.5 217.4L1556.5 167.4M1518.5 217.4L1569.1 200.8M1518.5 217.4L1581.8 282.1M1518.5 217.4L1594.5 336.9M1518.5 217.4L1607.1 425.1M1518.5 217.4L1619.8 324.6M1518.5 217.4L1632.4 241.9M1518.5 217.4L1657.7 256.1M1556.5 167.4L1569.1 200.8M1556.5 167.4L1581.8 282.1M1556.5 167.4L1594.5 336.9M1556.5 167.4L1607.1 425.1M1556.5 167.4L1619.8 324.6M1556.5 167.4L1632.4 241.9M1556.5 167.4L1657.7 256.1M1569.1 200.8L1581.8 282.1M1569.1 200.8L1594.5 336.9M1569.1 200.8L1607.1 425.1M1569.1 200.8L1619.8 324.6M1569.1 200.8L1632.4 241.9M1569.1 200.8L1657.7 256.1M1581.8 282.1L1594.5 336.9M1581.8 282.1L1607.1 425.1M1581.8 282.1L1619.8 324.6M1581.8 282.1L1632.4 241.9M1581.8 282.1L1657.7 256.1M1594.5 336.9L1607.1 425.1M1594.5 336.9L1619.8 324.6M1594.5 336.9L1632.4 241.9M1594.5 336.9L1657.7 256.1M1607.1 425.1L1619.8 324.6M1607.1 425.1L1632.4 241.9M1607.1 425.1L1657.7 256.1M1619.8 324.6L1632.4 241.9M1619.8 324.6L1657.7 256.1M1632.4 241.9L1657.7 256.1" stroke="#0000ee" stroke-width="3.4" fill="none" stroke-linecap="round"/>
<rect x="166.3" y="48.4" width="1538.2" height="513.7" stroke="#999" stroke-width="2.8" fill="none"/>
<g font-size="30" font-weight="bold" fill="#262626"><text x="157" y="58.9" text-anchor="end">100</text><text x="157" y="144.5" text-anchor="end">50</text><text x="157" y="230.1" text-anchor="end">0</text><text x="157" y="315.8" text-anchor="end">-50</text><text x="157" y="401.4" text-anchor="end">-100</text><text x="157" y="487.0" text-anchor="end">-150</text><text x="157" y="572.6" text-anchor="end">-200</text><text x="166.3" y="605.1" text-anchor="middle">2018/01/01</text><text x="550.9" y="605.1" text-anchor="middle">2019/01/01</text><text x="935.4" y="605.1" text-anchor="middle">2020/01/01</text><text x="1320.0" y="605.1" text-anchor="middle">2021/01/01</text><text x="1704.5" y="605.1" text-anchor="middle">2022/01/01</text></g>
<text x="937.5" y="650.1" text-anchor="middle" font-size="34.5" font-weight="bold" fill="#1a1a1a" textLength="73" lengthAdjust="spacingAndGlyphs">Date</text>
<text transform="translate(80 304.8) rotate(-90)" text-anchor="middle" font-size="32.5" font-weight="bold" fill="#1a1a1a" textLength="424" lengthAdjust="spacingAndGlyphs">perpendicular baseline(m)</text>
<text x="1584" y="128.5" font-size="61" font-weight="bold" fill="#000">(a)</text>
<path d="M550.9 739.8V1253.5M935.4 739.8V1253.5M1320.0 739.8V1253.5M166.3 825.4H1704.5M166.3 911.0H1704.5M166.3 996.6H1704.5M166.3 1082.3H1704.5M166.3 1167.9H1704.5" stroke="#e3e3e3" stroke-width="2" fill="none"/>
<path d="M166.3 1253.5v-15M166.3 739.8v15M243.2 1253.5v-7M243.2 739.8v7M320.1 1253.5v-7M320.1 739.8v7M397.0 1253.5v-7M397.0 739.8v7M473.9 1253.5v-7M473.9 739.8v7M550.9 1253.5v-15M550.9 739.8v15M627.8 1253.5v-7M627.8 739.8v7M704.7 1253.5v-7M704.7 739.8v7M781.6 1253.5v-7M781.6 739.8v7M858.5 1253.5v-7M858.5 739.8v7M935.4 1253.5v-15M935.4 739.8v15M1012.3 1253.5v-7M1012.3 739.8v7M1089.2 1253.5v-7M1089.2 739.8v7M1166.1 1253.5v-7M1166.1 739.8v7M1243.0 1253.5v-7M1243.0 739.8v7M1320.0 1253.5v-15M1320.0 739.8v15M1396.9 1253.5v-7M1396.9 739.8v7M1473.8 1253.5v-7M1473.8 739.8v7M1550.7 1253.5v-7M1550.7 739.8v7M1627.6 1253.5v-7M1627.6 739.8v7M1704.5 1253.5v-15M1704.5 739.8v15M166.3 739.8h15M1704.5 739.8h-15M166.3 756.9h7M1704.5 756.9h-7M166.3 774.0h7M1704.5 774.0h-7M166.3 791.2h7M1704.5 791.2h-7M166.3 808.3h7M1704.5 808.3h-7M166.3 825.4h15M1704.5 825.4h-15M166.3 842.5h7M1704.5 842.5h-7M166.3 859.7h7M1704.5 859.7h-7M166.3 876.8h7M1704.5 876.8h-7M166.3 893.9h7M1704.5 893.9h-7M166.3 911.0h15M1704.5 911.0h-15M166.3 928.2h7M1704.5 928.2h-7M166.3 945.3h7M1704.5 945.3h-7M166.3 962.4h7M1704.5 962.4h-7M166.3 979.5h7M1704.5 979.5h-7M166.3 996.6h15M1704.5 996.6h-15M166.3 1013.8h7M1704.5 1013.8h-7M166.3 1030.9h7M1704.5 1030.9h-7M166.3 1048.0h7M1704.5 1048.0h-7M166.3 1065.1h7M1704.5 1065.1h-7M166.3 1082.3h15M1704.5 1082.3h-15M166.3 1099.4h7M1704.5 1099.4h-7M166.3 1116.5h7M1704.5 1116.5h-7M166.3 1133.6h7M1704.5 1133.6h-7M166.3 1150.8h7M1704.5 1150.8h-7M166.3 1167.9h15M1704.5 1167.9h-15M166.3 1185.0h7M1704.5 1185.0h-7M166.3 1202.1h7M1704.5 1202.1h-7M166.3 1219.3h7M1704.5 1219.3h-7M166.3 1236.4h7M1704.5 1236.4h-7M166.3 1253.5h15M1704.5 1253.5h-15" stroke="#8a8a8a" stroke-width="2.6" fill="none"/>
<g stroke="#ee9096" stroke-width="2.8" fill="none"><circle cx="177.1" cy="909.3" r="10.2"/><circle cx="189.8" cy="1017.2" r="10.2"/><circle cx="202.4" cy="967.5" r="10.2"/><circle cx="215.1" cy="926.4" r="10.2"/><circle cx="227.7" cy="916.2" r="10.2"/><circle cx="240.4" cy="893.9" r="10.2"/><circle cx="253.0" cy="936.7" r="10.2"/><circle cx="265.7" cy="898.2" r="10.2"/><circle cx="278.3" cy="904.2" r="10.2"/><circle cx="291.0" cy="864.8" r="10.2"/><circle cx="303.6" cy="1085.7" r="10.2"/><circle cx="316.3" cy="1018.9" r="10.2"/><circle cx="329.0" cy="960.7" r="10.2"/><circle cx="341.6" cy="900.1" r="10.2"/><circle cx="354.3" cy="851.1" r="10.2"/><circle cx="366.9" cy="875.9" r="10.2"/><circle cx="379.6" cy="1034.3" r="10.2"/><circle cx="392.2" cy="906.9" r="10.2"/><circle cx="404.9" cy="978.8" r="10.2"/><circle cx="417.5" cy="945.3" r="10.2"/><circle cx="430.2" cy="935.0" r="10.2"/><circle cx="442.9" cy="1010.3" r="10.2"/><circle cx="455.5" cy="1022.3" r="10.2"/><circle cx="468.2" cy="1096.8" r="10.2"/><circle cx="480.8" cy="839.1" r="10.2"/><circle cx="493.5" cy="748.4" r="10.2"/><circle cx="506.1" cy="916.2" r="10.2"/><circle cx="518.8" cy="928.2" r="10.2"/><circle cx="531.4" cy="949.6" r="10.2"/><circle cx="544.1" cy="958.6" r="10.2"/><circle cx="556.8" cy="779.2" r="10.2"/><circle cx="569.4" cy="958.1" r="10.2"/><circle cx="582.1" cy="945.3" r="10.2"/><circle cx="594.7" cy="955.6" r="10.2"/><circle cx="607.4" cy="1012.6" r="10.2"/><circle cx="620.0" cy="1009.2" r="10.2"/><circle cx="632.7" cy="887.1" r="10.2"/><circle cx="645.3" cy="1047.2" r="10.2"/><circle cx="658.0" cy="993.2" r="10.2"/><circle cx="670.6" cy="1181.6" r="10.2"/><circle cx="683.3" cy="869.9" r="10.2"/><circle cx="696.0" cy="906.2" r="10.2"/><circle cx="708.6" cy="1031.4" r="10.2"/><circle cx="721.3" cy="873.0" r="10.2"/><circle cx="733.9" cy="968.7" r="10.2"/><circle cx="746.6" cy="885.3" r="10.2"/><circle cx="759.2" cy="916.9" r="10.2"/><circle cx="771.9" cy="979.9" r="10.2"/><circle cx="784.5" cy="1157.3" r="10.2"/><circle cx="797.2" cy="1140.5" r="10.2"/><circle cx="809.9" cy="1013.8" r="10.2"/><circle cx="822.5" cy="884.5" r="10.2"/><circle cx="835.2" cy="1006.9" r="10.2"/><circle cx="847.8" cy="953.8" r="10.2"/><circle cx="860.5" cy="962.4" r="10.2"/><circle cx="873.1" cy="1045.5" r="10.2"/><circle cx="885.8" cy="971.0" r="10.2"/><circle cx="898.4" cy="811.7" r="10.2"/><circle cx="911.1" cy="866.0" r="10.2"/><circle cx="923.7" cy="943.6" r="10.2"/><circle cx="936.4" cy="953.8" r="10.2"/><circle cx="949.1" cy="925.6" r="10.2"/><circle cx="961.7" cy="866.5" r="10.2"/><circle cx="974.4" cy="861.9" r="10.2"/><circle cx="987.0" cy="963.3" r="10.2"/><circle cx="999.7" cy="983.8" r="10.2"/><circle cx="1012.3" cy="1059.2" r="10.2"/><circle cx="1025.0" cy="930.9" r="10.2"/><circle cx="1037.6" cy="905.9" r="10.2"/><circle cx="1050.3" cy="1015.5" r="10.2"/><circle cx="1062.9" cy="1072.8" r="10.2"/><circle cx="1075.6" cy="962.4" r="10.2"/><circle cx="1088.3" cy="977.8" r="10.2"/><circle cx="1100.9" cy="778.3" r="10.2"/><circle cx="1113.6" cy="920.3" r="10.2"/><circle cx="1126.2" cy="948.4" r="10.2"/><circle cx="1138.9" cy="934.8" r="10.2"/><circle cx="1151.5" cy="898.9" r="10.2"/><circle cx="1164.2" cy="893.9" r="10.2"/><circle cx="1176.8" cy="1013.8" r="10.2"/><circle cx="1189.5" cy="1155.7" r="10.2"/><circle cx="1214.8" cy="1032.6" r="10.2"/><circle cx="1227.5" cy="919.1" r="10.2"/><circle cx="1240.1" cy="917.9" r="10.2"/><circle cx="1252.8" cy="949.6" r="10.2"/><circle cx="1265.4" cy="1045.5" r="10.2"/><circle cx="1278.1" cy="1070.8" r="10.2"/><circle cx="1290.7" cy="814.5" r="10.2"/><circle cx="1303.4" cy="945.3" r="10.2"/><circle cx="1316.0" cy="822.2" r="10.2"/><circle cx="1328.7" cy="857.1" r="10.2"/><circle cx="1341.4" cy="971.0" r="10.2"/><circle cx="1354.0" cy="983.8" r="10.2"/><circle cx="1366.7" cy="928.2" r="10.2"/><circle cx="1379.3" cy="919.6" r="10.2"/><circle cx="1392.0" cy="924.7" r="10.2"/><circle cx="1404.6" cy="950.4" r="10.2"/><circle cx="1417.3" cy="878.0" r="10.2"/><circle cx="1429.9" cy="985.5" r="10.2"/><circle cx="1442.6" cy="893.1" r="10.2"/><circle cx="1455.3" cy="987.2" r="10.2"/><circle cx="1467.9" cy="865.7" r="10.2"/><circle cx="1518.5" cy="908.8" r="10.2"/><circle cx="1556.5" cy="858.8" r="10.2"/><circle cx="1569.1" cy="892.2" r="10.2"/><circle cx="1581.8" cy="973.5" r="10.2"/><circle cx="1594.5" cy="1028.3" r="10.2"/><circle cx="1607.1" cy="1116.5" r="10.2"/><circle cx="1619.8" cy="1016.0" r="10.2"/><circle cx="1632.4" cy="933.3" r="10.2"/><circle cx="1657.7" cy="947.5" r="10.2"/></g>
<path d="M177.1 909.3L189.8 1017.2M177.1 909.3L202.4 967.5M177.1 909.3L215.1 926.4M177.1 909.3L227.7 916.2M177.1 909.3L240.4 893.9M177.1 909.3L253.0 936.7M177.1 909.3L265.7 898.2M177.1 909.3L278.3 904.2M177.1 909.3L291.0 864.8M177.1 909.3L329.0 960.7M189.8 1017.2L202.4 967.5M189.8 1017.2L215.1 926.4M189.8 1017.2L227.7 916.2M189.8 1017.2L240.4 893.9M189.8 1017.2L253.0 936.7M189.8 1017.2L265.7 898.2M189.8 1017.2L278.3 904.2M189.8 1017.2L291.0 864.8M189.8 1017.2L303.6 1085.7M189.8 1017.2L316.3 1018.9M189.8 1017.2L329.0 960.7M202.4 967.5L215.1 926.4M202.4 967.5L227.7 916.2M202.4 967.5L240.4 893.9M202.4 967.5L253.0 936.7M202.4 967.5L265.7 898.2M202.4 967.5L278.3 904.2M202.4 967.5L291.0 864.8M202.4 967.5L303.6 1085.7M202.4 967.5L316.3 1018.9M202.4 967.5L329.0 960.7M215.1 926.4L227.7 916.2M215.1 926.4L240.4 893.9M215.1 926.4L253.0 936.7M215.1 926.4L265.7 898.2M215.1 926.4L278.3 904.2M215.1 926.4L291.0 864.8M215.1 926.4L316.3 1018.9M215.1 926.4L329.0 960.7M215.1 926.4L341.6 900.1M227.7 916.2L240.4 893.9M227.7 916.2L253.0 936.7M227.7 916.2L265.7 898.2M227.7 916.2L278.3 904.2M227.7 916.2L291.0 864.8M227.7 916.2L316.3 1018.9M227.7 916.2L329.0 960.7M227.7 916.2L341.6 900.1M227.7 916.2L354.3 851.1M240.4 893.9L253.0 936.7M240.4 893.9L265.7 898.2M240.4 893.9L278.3 904.2M240.4 893.9L291.0 864.8M240.4 893.9L316.3 1018.9M240.4 893.9L329.0 960.7M240.4 893.9L341.6 900.1M240.4 893.9L354.3 851.1M240.4 893.9L366.9 875.9M253.0 936.7L265.7 898.2M253.0 936.7L278.3 904.2M253.0 936.7L291.0 864.8M253.0 936.7L303.6 1085.7M253.0 936.7L316.3 1018.9M253.0 936.7L329.0 960.7M253.0 936.7L341.6 900.1M253.0 936.7L354.3 851.1M253.0 936.7L366.9 875.9M265.7 898.2L278.3 904.2M265.7 898.2L291.0 864.8M265.7 898.2L316.3 1018.9M265.7 898.2L329.0 960.7M265.7 898.2L341.6 900.1M265.7 898.2L354.3 851.1M265.7 898.2L366.9 875.9M265.7 898.2L392.2 906.9M278.3 904.2L291.0 864.8M278.3 904.2L303.6 1085.7M278.3 904.2L316.3 1018.9M278.3 904.2L329.0 960.7M278.3 904.2L341.6 900.1M278.3 904.2L354.3 851.1M278.3 904.2L366.9 875.9M278.3 904.2L392.2 906.9M278.3 904.2L404.9 978.8M291.0 864.8L316.3 1018.9M291.0 864.8L329.0 960.7M291.0 864.8L341.6 900.1M291.0 864.8L354.3 851.1M291.0 864.8L366.9 875.9M291.0 864.8L392.2 906.9M303.6 1085.7L316.3 1018.9M303.6 1085.7L329.0 960.7M303.6 1085.7L379.6 1034.3M303.6 1085.7L404.9 978.8M316.3 1018.9L329.0 960.7M316.3 1018.9L341.6 900.1M316.3 1018.9L354.3 851.1M316.3 1018.9L366.9 875.9M316.3 1018.9L379.6 1034.3M316.3 1018.9L392.2 906.9M316.3 1018.9L404.9 978.8M316.3 1018.9L417.5 945.3M316.3 1018.9L430.2 935.0M316.3 1018.9L442.9 1010.3M329.0 960.7L341.6 900.1M329.0 960.7L354.3 851.1M329.0 960.7L366.9 875.9M329.0 960.7L379.6 1034.3M329.0 960.7L392.2 906.9M329.0 960.7L404.9 978.8M329.0 960.7L417.5 945.3M329.0 960.7L430.2 935.0M329.0 960.7L442.9 1010.3M329.0 960.7L455.5 1022.3M341.6 900.1L354.3 851.1M341.6 900.1L366.9 875.9M341.6 900.1L379.6 1034.3M341.6 900.1L392.2 906.9M341.6 900.1L404.9 978.8M341.6 900.1L417.5 945.3M341.6 900.1L430.2 935.0M341.6 900.1L442.9 1010.3M354.3 851.1L366.9 875.9M354.3 851.1L379.6 1034.3M354.3 851.1L392.2 906.9M354.3 851.1L404.9 978.8M354.3 851.1L417.5 945.3M354.3 851.1L430.2 935.0M354.3 851.1L480.8 839.1M366.9 875.9L379.6 1034.3M366.9 875.9L392.2 906.9M366.9 875.9L404.9 978.8M366.9 875.9L417.5 945.3M366.9 875.9L430.2 935.0M366.9 875.9L442.9 1010.3M366.9 875.9L480.8 839.1M379.6 1034.3L392.2 906.9M379.6 1034.3L404.9 978.8M379.6 1034.3L417.5 945.3M379.6 1034.3L430.2 935.0M379.6 1034.3L442.9 1010.3M379.6 1034.3L455.5 1022.3M379.6 1034.3L468.2 1096.8M392.2 906.9L404.9 978.8M392.2 906.9L417.5 945.3M392.2 906.9L430.2 935.0M392.2 906.9L442.9 1010.3M392.2 906.9L455.5 1022.3M392.2 906.9L480.8 839.1M392.2 906.9L506.1 916.2M392.2 906.9L518.8 928.2M404.9 978.8L417.5 945.3M404.9 978.8L430.2 935.0M404.9 978.8L442.9 1010.3M404.9 978.8L455.5 1022.3M404.9 978.8L468.2 1096.8M404.9 978.8L480.8 839.1M404.9 978.8L506.1 916.2M404.9 978.8L518.8 928.2M404.9 978.8L531.4 949.6M404.9 978.8L544.1 958.6M417.5 945.3L430.2 935.0M417.5 945.3L442.9 1010.3M417.5 945.3L455.5 1022.3M417.5 945.3L468.2 1096.8M417.5 945.3L480.8 839.1M417.5 945.3L506.1 916.2M417.5 945.3L518.8 928.2M417.5 945.3L531.4 949.6M417.5 945.3L544.1 958.6M417.5 945.3L569.4 958.1M430.2 935.0L442.9 1010.3M430.2 935.0L455.5 1022.3M430.2 935.0L468.2 1096.8M430.2 935.0L480.8 839.1M430.2 935.0L506.1 916.2M430.2 935.0L518.8 928.2M430.2 935.0L531.4 949.6M430.2 935.0L544.1 958.6M430.2 935.0L569.4 958.1M430.2 935.0L582.1 945.3M442.9 1010.3L455.5 1022.3M442.9 1010.3L468.2 1096.8M442.9 1010.3L480.8 839.1M442.9 1010.3L506.1 916.2M442.9 1010.3L518.8 928.2M442.9 1010.3L531.4 949.6M442.9 1010.3L544.1 958.6M442.9 1010.3L569.4 958.1M442.9 1010.3L594.7 955.6M442.9 1010.3L607.4 1012.6M442.9 1010.3L658.0 993.2M455.5 1022.3L468.2 1096.8M455.5 1022.3L480.8 839.1M455.5 1022.3L506.1 916.2M455.5 1022.3L518.8 928.2M455.5 1022.3L531.4 949.6M455.5 1022.3L544.1 958.6M455.5 1022.3L569.4 958.1M455.5 1022.3L582.1 945.3M455.5 1022.3L607.4 1012.6M455.5 1022.3L658.0 993.2M468.2 1096.8L506.1 916.2M468.2 1096.8L518.8 928.2M468.2 1096.8L531.4 949.6M468.2 1096.8L544.1 958.6M468.2 1096.8L569.4 958.1M468.2 1096.8L594.7 955.6M468.2 1096.8L607.4 1012.6M468.2 1096.8L620.0 1009.2M480.8 839.1L493.5 748.4M480.8 839.1L506.1 916.2M480.8 839.1L518.8 928.2M480.8 839.1L531.4 949.6M480.8 839.1L544.1 958.6M480.8 839.1L556.8 779.2M480.8 839.1L569.4 958.1M480.8 839.1L582.1 945.3M480.8 839.1L607.4 1012.6M480.8 839.1L620.0 1009.2M480.8 839.1L645.3 1047.2M480.8 839.1L658.0 993.2M493.5 748.4L506.1 916.2M493.5 748.4L518.8 928.2M493.5 748.4L531.4 949.6M493.5 748.4L544.1 958.6M493.5 748.4L556.8 779.2M493.5 748.4L569.4 958.1M493.5 748.4L582.1 945.3M493.5 748.4L594.7 955.6M493.5 748.4L607.4 1012.6M493.5 748.4L620.0 1009.2M493.5 748.4L632.7 887.1M493.5 748.4L645.3 1047.2M493.5 748.4L658.0 993.2M506.1 916.2L518.8 928.2M506.1 916.2L531.4 949.6M506.1 916.2L544.1 958.6M506.1 916.2L556.8 779.2M506.1 916.2L569.4 958.1M506.1 916.2L582.1 945.3M506.1 916.2L594.7 955.6M506.1 916.2L607.4 1012.6M506.1 916.2L620.0 1009.2M506.1 916.2L632.7 887.1M506.1 916.2L645.3 1047.2M506.1 916.2L658.0 993.2M518.8 928.2L531.4 949.6M518.8 928.2L544.1 958.6M518.8 928.2L556.8 779.2M518.8 928.2L569.4 958.1M518.8 928.2L582.1 945.3M518.8 928.2L594.7 955.6M518.8 928.2L607.4 1012.6M518.8 928.2L620.0 1009.2M518.8 928.2L632.7 887.1M518.8 928.2L645.3 1047.2M518.8 928.2L658.0 993.2M531.4 949.6L544.1 958.6M531.4 949.6L556.8 779.2M531.4 949.6L569.4 958.1M531.4 949.6L582.1 945.3M531.4 949.6L594.7 955.6M531.4 949.6L607.4 1012.6M531.4 949.6L620.0 1009.2M531.4 949.6L632.7 887.1M531.4 949.6L645.3 1047.2M531.4 949.6L658.0 993.2M544.1 958.6L556.8 779.2M544.1 958.6L569.4 958.1M544.1 958.6L582.1 945.3M544.1 958.6L594.7 955.6M544.1 958.6L607.4 1012.6M544.1 958.6L620.0 1009.2M544.1 958.6L632.7 887.1M544.1 958.6L645.3 1047.2M544.1 958.6L658.0 993.2M556.8 779.2L569.4 958.1M556.8 779.2L582.1 945.3M556.8 779.2L594.7 955.6M556.8 779.2L607.4 1012.6M556.8 779.2L620.0 1009.2M556.8 779.2L632.7 887.1M556.8 779.2L645.3 1047.2M556.8 779.2L658.0 993.2M556.8 779.2L696.0 906.2M569.4 958.1L582.1 945.3M569.4 958.1L594.7 955.6M569.4 958.1L607.4 1012.6M569.4 958.1L620.0 1009.2M569.4 958.1L632.7 887.1M569.4 958.1L645.3 1047.2M569.4 958.1L658.0 993.2M569.4 958.1L683.3 869.9M569.4 958.1L696.0 906.2M582.1 945.3L594.7 955.6M582.1 945.3L607.4 1012.6M582.1 945.3L620.0 1009.2M582.1 945.3L632.7 887.1M582.1 945.3L645.3 1047.2M582.1 945.3L658.0 993.2M582.1 945.3L683.3 869.9M582.1 945.3L696.0 906.2M594.7 955.6L607.4 1012.6M594.7 955.6L620.0 1009.2M594.7 955.6L632.7 887.1M594.7 955.6L645.3 1047.2M594.7 955.6L658.0 993.2M594.7 955.6L683.3 869.9M594.7 955.6L696.0 906.2M594.7 955.6L708.6 1031.4M607.4 1012.6L620.0 1009.2M607.4 1012.6L632.7 887.1M607.4 1012.6L645.3 1047.2M607.4 1012.6L658.0 993.2M607.4 1012.6L683.3 869.9M607.4 1012.6L696.0 906.2M607.4 1012.6L708.6 1031.4M607.4 1012.6L733.9 968.7M620.0 1009.2L632.7 887.1M620.0 1009.2L645.3 1047.2M620.0 1009.2L658.0 993.2M620.0 1009.2L670.6 1181.6M620.0 1009.2L683.3 869.9M620.0 1009.2L696.0 906.2M620.0 1009.2L708.6 1031.4M620.0 1009.2L733.9 968.7M632.7 887.1L645.3 1047.2M632.7 887.1L658.0 993.2M632.7 887.1L683.3 869.9M632.7 887.1L696.0 906.2M632.7 887.1L708.6 1031.4M632.7 887.1L721.3 873.0M632.7 887.1L733.9 968.7M632.7 887.1L746.6 885.3M632.7 887.1L759.2 916.9M645.3 1047.2L658.0 993.2M645.3 1047.2L670.6 1181.6M645.3 1047.2L683.3 869.9M645.3 1047.2L696.0 906.2M645.3 1047.2L708.6 1031.4M645.3 1047.2L733.9 968.7M645.3 1047.2L771.9 979.9M658.0 993.2L670.6 1181.6M658.0 993.2L683.3 869.9M658.0 993.2L696.0 906.2M658.0 993.2L708.6 1031.4M658.0 993.2L721.3 873.0M658.0 993.2L733.9 968.7M658.0 993.2L746.6 885.3M658.0 993.2L759.2 916.9M658.0 993.2L771.9 979.9M670.6 1181.6L708.6 1031.4M670.6 1181.6L784.5 1157.3M670.6 1181.6L797.2 1140.5M683.3 869.9L696.0 906.2M683.3 869.9L708.6 1031.4M683.3 869.9L721.3 873.0M683.3 869.9L733.9 968.7M683.3 869.9L746.6 885.3M683.3 869.9L759.2 916.9M683.3 869.9L771.9 979.9M696.0 906.2L708.6 1031.4M696.0 906.2L721.3 873.0M696.0 906.2L733.9 968.7M696.0 906.2L746.6 885.3M696.0 906.2L759.2 916.9M696.0 906.2L771.9 979.9M696.0 906.2L809.9 1013.8M696.0 906.2L822.5 884.5M708.6 1031.4L721.3 873.0M708.6 1031.4L733.9 968.7M708.6 1031.4L746.6 885.3M708.6 1031.4L759.2 916.9M708.6 1031.4L771.9 979.9M708.6 1031.4L784.5 1157.3M708.6 1031.4L797.2 1140.5M708.6 1031.4L809.9 1013.8M708.6 1031.4L835.2 1006.9M721.3 873.0L733.9 968.7M721.3 873.0L746.6 885.3M721.3 873.0L759.2 916.9M721.3 873.0L771.9 979.9M721.3 873.0L809.9 1013.8M721.3 873.0L822.5 884.5M733.9 968.7L746.6 885.3M733.9 968.7L759.2 916.9M733.9 968.7L771.9 979.9M733.9 968.7L809.9 1013.8M733.9 968.7L822.5 884.5M733.9 968.7L835.2 1006.9M733.9 968.7L847.8 953.8M733.9 968.7L860.5 962.4M733.9 968.7L885.8 971.0M733.9 968.7L936.4 953.8M746.6 885.3L759.2 916.9M746.6 885.3L771.9 979.9M746.6 885.3L809.9 1013.8M746.6 885.3L822.5 884.5M746.6 885.3L835.2 1006.9M746.6 885.3L847.8 953.8M746.6 885.3L860.5 962.4M759.2 916.9L771.9 979.9M759.2 916.9L809.9 1013.8M759.2 916.9L822.5 884.5M759.2 916.9L835.2 1006.9M759.2 916.9L847.8 953.8M759.2 916.9L860.5 962.4M759.2 916.9L885.8 971.0M759.2 916.9L949.1 925.6M771.9 979.9L784.5 1157.3M771.9 979.9L797.2 1140.5M771.9 979.9L809.9 1013.8M771.9 979.9L822.5 884.5M771.9 979.9L835.2 1006.9M771.9 979.9L847.8 953.8M771.9 979.9L860.5 962.4M771.9 979.9L873.1 1045.5M771.9 979.9L885.8 971.0M771.9 979.9L999.7 983.8M784.5 1157.3L797.2 1140.5M784.5 1157.3L809.9 1013.8M784.5 1157.3L835.2 1006.9M784.5 1157.3L873.1 1045.5M797.2 1140.5L809.9 1013.8M797.2 1140.5L835.2 1006.9M797.2 1140.5L873.1 1045.5M809.9 1013.8L822.5 884.5M809.9 1013.8L835.2 1006.9M809.9 1013.8L847.8 953.8M809.9 1013.8L860.5 962.4M809.9 1013.8L873.1 1045.5M809.9 1013.8L885.8 971.0M809.9 1013.8L923.7 943.6M809.9 1013.8L936.4 953.8M822.5 884.5L835.2 1006.9M822.5 884.5L847.8 953.8M822.5 884.5L860.5 962.4M822.5 884.5L873.1 1045.5M822.5 884.5L885.8 971.0M822.5 884.5L898.4 811.7M822.5 884.5L911.1 866.0M822.5 884.5L923.7 943.6M822.5 884.5L936.4 953.8M822.5 884.5L949.1 925.6M835.2 1006.9L847.8 953.8M835.2 1006.9L860.5 962.4M835.2 1006.9L873.1 1045.5M835.2 1006.9L885.8 971.0M835.2 1006.9L911.1 866.0M835.2 1006.9L923.7 943.6M835.2 1006.9L936.4 953.8M835.2 1006.9L949.1 925.6M847.8 953.8L860.5 962.4M847.8 953.8L873.1 1045.5M847.8 953.8L885.8 971.0M847.8 953.8L898.4 811.7M847.8 953.8L911.1 866.0M847.8 953.8L923.7 943.6M847.8 953.8L936.4 953.8M847.8 953.8L949.1 925.6M847.8 953.8L961.7 866.5M847.8 953.8L987.0 963.3M847.8 953.8L999.7 983.8M847.8 953.8L1012.3 1059.2M847.8 953.8L1025.0 930.9M847.8 953.8L1037.6 905.9M847.8 953.8L1075.6 962.4M847.8 953.8L1088.3 977.8M860.5 962.4L873.1 1045.5M860.5 962.4L885.8 971.0M860.5 962.4L898.4 811.7M860.5 962.4L911.1 866.0M860.5 962.4L923.7 943.6M860.5 962.4L936.4 953.8M860.5 962.4L949.1 925.6M860.5 962.4L961.7 866.5M860.5 962.4L974.4 861.9M860.5 962.4L987.0 963.3M860.5 962.4L1075.6 962.4M860.5 962.4L1088.3 977.8M873.1 1045.5L885.8 971.0M873.1 1045.5L911.1 866.0M873.1 1045.5L923.7 943.6M873.1 1045.5L936.4 953.8M873.1 1045.5L949.1 925.6M873.1 1045.5L987.0 963.3M873.1 1045.5L999.7 983.8M873.1 1045.5L1012.3 1059.2M885.8 971.0L898.4 811.7M885.8 971.0L911.1 866.0M885.8 971.0L923.7 943.6M885.8 971.0L936.4 953.8M885.8 971.0L949.1 925.6M885.8 971.0L961.7 866.5M885.8 971.0L974.4 861.9M885.8 971.0L987.0 963.3M885.8 971.0L999.7 983.8M885.8 971.0L1012.3 1059.2M885.8 971.0L1075.6 962.4M885.8 971.0L1088.3 977.8M898.4 811.7L911.1 866.0M898.4 811.7L923.7 943.6M898.4 811.7L936.4 953.8M898.4 811.7L949.1 925.6M898.4 811.7L961.7 866.5M898.4 811.7L974.4 861.9M898.4 811.7L987.0 963.3M898.4 811.7L999.7 983.8M898.4 811.7L1037.6 905.9M911.1 866.0L923.7 943.6M911.1 866.0L936.4 953.8M911.1 866.0L949.1 925.6M911.1 866.0L961.7 866.5M911.1 866.0L974.4 861.9M911.1 866.0L987.0 963.3M911.1 866.0L999.7 983.8M911.1 866.0L1012.3 1059.2M911.1 866.0L1025.0 930.9M911.1 866.0L1037.6 905.9M923.7 943.6L936.4 953.8M923.7 943.6L949.1 925.6M923.7 943.6L961.7 866.5M923.7 943.6L974.4 861.9M923.7 943.6L987.0 963.3M923.7 943.6L999.7 983.8M923.7 943.6L1012.3 1059.2M923.7 943.6L1025.0 930.9M923.7 943.6L1037.6 905.9M923.7 943.6L1050.3 1015.5M923.7 943.6L1075.6 962.4M923.7 943.6L1088.3 977.8M923.7 943.6L1126.2 948.4M923.7 943.6L1138.9 934.8M936.4 953.8L949.1 925.6M936.4 953.8L961.7 866.5M936.4 953.8L974.4 861.9M936.4 953.8L987.0 963.3M936.4 953.8L999.7 983.8M936.4 953.8L1012.3 1059.2M936.4 953.8L1025.0 930.9M936.4 953.8L1037.6 905.9M936.4 953.8L1050.3 1015.5M936.4 953.8L1075.6 962.4M936.4 953.8L1126.2 948.4M949.1 925.6L961.7 866.5M949.1 925.6L974.4 861.9M949.1 925.6L987.0 963.3M949.1 925.6L999.7 983.8M949.1 925.6L1012.3 1059.2M949.1 925.6L1025.0 930.9M949.1 925.6L1037.6 905.9M949.1 925.6L1050.3 1015.5M949.1 925.6L1075.6 962.4M949.1 925.6L1113.6 920.3M949.1 925.6L1138.9 934.8M961.7 866.5L974.4 861.9M961.7 866.5L987.0 963.3M961.7 866.5L999.7 983.8M961.7 866.5L1012.3 1059.2M961.7 866.5L1025.0 930.9M961.7 866.5L1037.6 905.9M961.7 866.5L1075.6 962.4M974.4 861.9L987.0 963.3M974.4 861.9L999.7 983.8M974.4 861.9L1012.3 1059.2M974.4 861.9L1025.0 930.9M974.4 861.9L1037.6 905.9M974.4 861.9L1050.3 1015.5M974.4 861.9L1075.6 962.4M974.4 861.9L1088.3 977.8M987.0 963.3L999.7 983.8M987.0 963.3L1012.3 1059.2M987.0 963.3L1025.0 930.9M987.0 963.3L1037.6 905.9M987.0 963.3L1050.3 1015.5M987.0 963.3L1062.9 1072.8M987.0 963.3L1075.6 962.4M987.0 963.3L1088.3 977.8M987.0 963.3L1113.6 920.3M987.0 963.3L1126.2 948.4M999.7 983.8L1012.3 1059.2M999.7 983.8L1025.0 930.9M999.7 983.8L1037.6 905.9M999.7 983.8L1050.3 1015.5M999.7 983.8L1062.9 1072.8M999.7 983.8L1075.6 962.4M999.7 983.8L1088.3 977.8M999.7 983.8L1113.6 920.3M999.7 983.8L1126.2 948.4M1012.3 1059.2L1025.0 930.9M1012.3 1059.2L1037.6 905.9M1012.3 1059.2L1050.3 1015.5M1012.3 1059.2L1062.9 1072.8M1012.3 1059.2L1075.6 962.4M1012.3 1059.2L1088.3 977.8M1025.0 930.9L1037.6 905.9M1025.0 930.9L1050.3 1015.5M1025.0 930.9L1062.9 1072.8M1025.0 930.9L1075.6 962.4M1025.0 930.9L1088.3 977.8M1025.0 930.9L1100.9 778.3M1025.0 930.9L1113.6 920.3M1025.0 930.9L1126.2 948.4M1025.0 930.9L1138.9 934.8M1025.0 930.9L1151.5 898.9M1037.6 905.9L1050.3 1015.5M1037.6 905.9L1062.9 1072.8M1037.6 905.9L1075.6 962.4M1037.6 905.9L1088.3 977.8M1037.6 905.9L1100.9 778.3M1037.6 905.9L1113.6 920.3M1037.6 905.9L1126.2 948.4M1037.6 905.9L1138.9 934.8M1037.6 905.9L1151.5 898.9M1037.6 905.9L1164.2 893.9M1050.3 1015.5L1062.9 1072.8M1050.3 1015.5L1075.6 962.4M1050.3 1015.5L1088.3 977.8M1050.3 1015.5L1113.6 920.3M1050.3 1015.5L1126.2 948.4M1050.3 1015.5L1138.9 934.8M1050.3 1015.5L1151.5 898.9M1050.3 1015.5L1176.8 1013.8M1062.9 1072.8L1075.6 962.4M1062.9 1072.8L1088.3 977.8M1062.9 1072.8L1113.6 920.3M1062.9 1072.8L1126.2 948.4M1062.9 1072.8L1138.9 934.8M1062.9 1072.8L1176.8 1013.8M1075.6 962.4L1088.3 977.8M1075.6 962.4L1100.9 778.3M1075.6 962.4L1113.6 920.3M1075.6 962.4L1126.2 948.4M1075.6 962.4L1138.9 934.8M1075.6 962.4L1151.5 898.9M1075.6 962.4L1164.2 893.9M1075.6 962.4L1176.8 1013.8M1088.3 977.8L1100.9 778.3M1088.3 977.8L1113.6 920.3M1088.3 977.8L1126.2 948.4M1088.3 977.8L1138.9 934.8M1088.3 977.8L1151.5 898.9M1088.3 977.8L1164.2 893.9M1088.3 977.8L1176.8 1013.8M1088.3 977.8L1214.8 1032.6M1100.9 778.3L1113.6 920.3M1100.9 778.3L1126.2 948.4M1100.9 778.3L1138.9 934.8M1100.9 778.3L1151.5 898.9M1100.9 778.3L1164.2 893.9M1113.6 920.3L1126.2 948.4M1113.6 920.3L1138.9 934.8M1113.6 920.3L1151.5 898.9M1113.6 920.3L1164.2 893.9M1113.6 920.3L1176.8 1013.8M1113.6 920.3L1214.8 1032.6M1113.6 920.3L1227.5 919.1M1113.6 920.3L1240.1 917.9M1126.2 948.4L1138.9 934.8M1126.2 948.4L1151.5 898.9M1126.2 948.4L1164.2 893.9M1126.2 948.4L1176.8 1013.8M1126.2 948.4L1214.8 1032.6M1126.2 948.4L1227.5 919.1M1126.2 948.4L1240.1 917.9M1126.2 948.4L1252.8 949.6M1138.9 934.8L1151.5 898.9M1138.9 934.8L1164.2 893.9M1138.9 934.8L1176.8 1013.8M1138.9 934.8L1214.8 1032.6M1138.9 934.8L1227.5 919.1M1138.9 934.8L1240.1 917.9M1138.9 934.8L1252.8 949.6M1151.5 898.9L1164.2 893.9M1151.5 898.9L1176.8 1013.8M1151.5 898.9L1214.8 1032.6M1151.5 898.9L1227.5 919.1M1151.5 898.9L1240.1 917.9M1151.5 898.9L1252.8 949.6M1164.2 893.9L1176.8 1013.8M1164.2 893.9L1189.5 1155.7M1164.2 893.9L1214.8 1032.6M1164.2 893.9L1227.5 919.1M1164.2 893.9L1240.1 917.9M1164.2 893.9L1252.8 949.6M1176.8 1013.8L1189.5 1155.7M1176.8 1013.8L1214.8 1032.6M1176.8 1013.8L1227.5 919.1M1176.8 1013.8L1240.1 917.9M1176.8 1013.8L1252.8 949.6M1176.8 1013.8L1265.4 1045.5M1176.8 1013.8L1278.1 1070.8M1176.8 1013.8L1303.4 945.3M1189.5 1155.7L1214.8 1032.6M1189.5 1155.7L1227.5 919.1M1189.5 1155.7L1240.1 917.9M1189.5 1155.7L1265.4 1045.5M1189.5 1155.7L1278.1 1070.8M1214.8 1032.6L1227.5 919.1M1214.8 1032.6L1240.1 917.9M1214.8 1032.6L1252.8 949.6M1214.8 1032.6L1265.4 1045.5M1214.8 1032.6L1278.1 1070.8M1214.8 1032.6L1303.4 945.3M1214.8 1032.6L1341.4 971.0M1227.5 919.1L1240.1 917.9M1227.5 919.1L1252.8 949.6M1227.5 919.1L1265.4 1045.5M1227.5 919.1L1278.1 1070.8M1227.5 919.1L1290.7 814.5M1227.5 919.1L1303.4 945.3M1227.5 919.1L1316.0 822.2M1227.5 919.1L1328.7 857.1M1227.5 919.1L1341.4 971.0M1227.5 919.1L1354.0 983.8M1227.5 919.1L1366.7 928.2M1227.5 919.1L1379.3 919.6M1227.5 919.1L1392.0 924.7M1227.5 919.1L1417.3 878.0M1240.1 917.9L1252.8 949.6M1240.1 917.9L1265.4 1045.5M1240.1 917.9L1278.1 1070.8M1240.1 917.9L1290.7 814.5M1240.1 917.9L1303.4 945.3M1240.1 917.9L1316.0 822.2M1240.1 917.9L1328.7 857.1M1240.1 917.9L1341.4 971.0M1240.1 917.9L1354.0 983.8M1240.1 917.9L1366.7 928.2M1240.1 917.9L1379.3 919.6M1240.1 917.9L1392.0 924.7M1252.8 949.6L1265.4 1045.5M1252.8 949.6L1278.1 1070.8M1252.8 949.6L1290.7 814.5M1252.8 949.6L1303.4 945.3M1252.8 949.6L1316.0 822.2M1252.8 949.6L1328.7 857.1M1252.8 949.6L1341.4 971.0M1252.8 949.6L1354.0 983.8M1252.8 949.6L1366.7 928.2M1252.8 949.6L1379.3 919.6M1252.8 949.6L1392.0 924.7M1252.8 949.6L1404.6 950.4M1265.4 1045.5L1278.1 1070.8M1265.4 1045.5L1303.4 945.3M1265.4 1045.5L1341.4 971.0M1265.4 1045.5L1354.0 983.8M1265.4 1045.5L1366.7 928.2M1278.1 1070.8L1303.4 945.3M1278.1 1070.8L1341.4 971.0M1278.1 1070.8L1354.0 983.8M1278.1 1070.8L1366.7 928.2M1278.1 1070.8L1392.0 924.7M1278.1 1070.8L1404.6 950.4M1278.1 1070.8L1417.3 878.0M1278.1 1070.8L1429.9 985.5M1278.1 1070.8L1455.3 987.2M1290.7 814.5L1303.4 945.3M1290.7 814.5L1316.0 822.2M1290.7 814.5L1328.7 857.1M1290.7 814.5L1341.4 971.0M1290.7 814.5L1366.7 928.2M1290.7 814.5L1379.3 919.6M1290.7 814.5L1392.0 924.7M1290.7 814.5L1417.3 878.0M1303.4 945.3L1316.0 822.2M1303.4 945.3L1328.7 857.1M1303.4 945.3L1341.4 971.0M1303.4 945.3L1354.0 983.8M1303.4 945.3L1366.7 928.2M1303.4 945.3L1379.3 919.6M1303.4 945.3L1392.0 924.7M1303.4 945.3L1404.6 950.4M1303.4 945.3L1417.3 878.0M1303.4 945.3L1429.9 985.5M1316.0 822.2L1328.7 857.1M1316.0 822.2L1341.4 971.0M1316.0 822.2L1354.0 983.8M1316.0 822.2L1366.7 928.2M1316.0 822.2L1379.3 919.6M1316.0 822.2L1392.0 924.7M1316.0 822.2L1404.6 950.4M1316.0 822.2L1417.3 878.0M1316.0 822.2L1442.6 893.1M1328.7 857.1L1341.4 971.0M1328.7 857.1L1354.0 983.8M1328.7 857.1L1366.7 928.2M1328.7 857.1L1379.3 919.6M1328.7 857.1L1392.0 924.7M1328.7 857.1L1404.6 950.4M1328.7 857.1L1417.3 878.0M1328.7 857.1L1429.9 985.5M1328.7 857.1L1442.6 893.1M1341.4 971.0L1354.0 983.8M1341.4 971.0L1366.7 928.2M1341.4 971.0L1379.3 919.6M1341.4 971.0L1392.0 924.7M1341.4 971.0L1404.6 950.4M1341.4 971.0L1417.3 878.0M1341.4 971.0L1429.9 985.5M1341.4 971.0L1442.6 893.1M1341.4 971.0L1455.3 987.2M1354.0 983.8L1366.7 928.2M1354.0 983.8L1379.3 919.6M1354.0 983.8L1392.0 924.7M1354.0 983.8L1404.6 950.4M1354.0 983.8L1417.3 878.0M1354.0 983.8L1429.9 985.5M1354.0 983.8L1442.6 893.1M1354.0 983.8L1455.3 987.2M1366.7 928.2L1379.3 919.6M1366.7 928.2L1392.0 924.7M1366.7 928.2L1404.6 950.4M1366.7 928.2L1417.3 878.0M1366.7 928.2L1429.9 985.5M1366.7 928.2L1442.6 893.1M1366.7 928.2L1455.3 987.2M1366.7 928.2L1467.9 865.7M1379.3 919.6L1392.0 924.7M1379.3 919.6L1404.6 950.4M1379.3 919.6L1417.3 878.0M1379.3 919.6L1429.9 985.5M1379.3 919.6L1442.6 893.1M1379.3 919.6L1455.3 987.2M1379.3 919.6L1467.9 865.7M1392.0 924.7L1404.6 950.4M1392.0 924.7L1417.3 878.0M1392.0 924.7L1429.9 985.5M1392.0 924.7L1442.6 893.1M1392.0 924.7L1455.3 987.2M1392.0 924.7L1467.9 865.7M1392.0 924.7L1518.5 908.8M1404.6 950.4L1417.3 878.0M1404.6 950.4L1429.9 985.5M1404.6 950.4L1442.6 893.1M1404.6 950.4L1455.3 987.2M1404.6 950.4L1467.9 865.7M1404.6 950.4L1518.5 908.8M1417.3 878.0L1429.9 985.5M1417.3 878.0L1442.6 893.1M1417.3 878.0L1455.3 987.2M1417.3 878.0L1467.9 865.7M1417.3 878.0L1518.5 908.8M1429.9 985.5L1442.6 893.1M1429.9 985.5L1455.3 987.2M1429.9 985.5L1467.9 865.7M1429.9 985.5L1518.5 908.8M1442.6 893.1L1455.3 987.2M1442.6 893.1L1467.9 865.7M1442.6 893.1L1518.5 908.8M1442.6 893.1L1556.5 858.8M1442.6 893.1L1569.1 892.2M1455.3 987.2L1467.9 865.7M1455.3 987.2L1518.5 908.8M1455.3 987.2L1556.5 858.8M1455.3 987.2L1569.1 892.2M1455.3 987.2L1581.8 973.5M1467.9 865.7L1518.5 908.8M1467.9 865.7L1556.5 858.8M1467.9 865.7L1569.1 892.2M1467.9 865.7L1581.8 973.5M1518.5 908.8L1556.5 858.8M1518.5 908.8L1569.1 892.2M1518.5 908.8L1581.8 973.5M1518.5 908.8L1594.5 1028.3M1518.5 908.8L1619.8 1016.0M1518.5 908.8L1632.4 933.3M1556.5 858.8L1569.1 892.2M1556.5 858.8L1581.8 973.5M1556.5 858.8L1594.5 1028.3M1556.5 858.8L1619.8 1016.0M1556.5 858.8L1632.4 933.3M1556.5 858.8L1657.7 947.5M1569.1 892.2L1581.8 973.5M1569.1 892.2L1594.5 1028.3M1569.1 892.2L1619.8 1016.0M1569.1 892.2L1632.4 933.3M1569.1 892.2L1657.7 947.5M1581.8 973.5L1594.5 1028.3M1581.8 973.5L1607.1 1116.5M1581.8 973.5L1619.8 1016.0M1581.8 973.5L1632.4 933.3M1581.8 973.5L1657.7 947.5M1594.5 1028.3L1607.1 1116.5M1594.5 1028.3L1619.8 1016.0M1594.5 1028.3L1632.4 933.3M1594.5 1028.3L1657.7 947.5M1607.1 1116.5L1619.8 1016.0M1607.1 1116.5L1632.4 933.3M1607.1 1116.5L1657.7 947.5M1619.8 1016.0L1632.4 933.3M1619.8 1016.0L1657.7 947.5M1632.4 933.3L1657.7 947.5" stroke="#0000ee" stroke-width="3.4" fill="none" stroke-linecap="round"/>
<rect x="166.3" y="739.8" width="1538.2" height="513.7" stroke="#999" stroke-width="2.8" fill="none"/>
<g font-size="30" font-weight="bold" fill="#262626"><text x="157" y="750.3" text-anchor="end">100</text><text x="157" y="835.9" text-anchor="end">50</text><text x="157" y="921.5" text-anchor="end">0</text><text x="157" y="1007.1" text-anchor="end">-50</text><text x="157" y="1092.8" text-anchor="end">-100</text><text x="157" y="1178.4" text-anchor="end">-150</text><text x="157" y="1264.0" text-anchor="end">-200</text><text x="166.3" y="1296.5" text-anchor="middle">2018/01/01</text><text x="550.9" y="1296.5" text-anchor="middle">2019/01/01</text><text x="935.4" y="1296.5" text-anchor="middle">2020/01/01</text><text x="1320.0" y="1296.5" text-anchor="middle">2021/01/01</text><text x="1704.5" y="1296.5" text-anchor="middle">2022/01/01</text></g>
<text x="937.5" y="1341.5" text-anchor="middle" font-size="34.5" font-weight="bold" fill="#1a1a1a" textLength="73" lengthAdjust="spacingAndGlyphs">Date</text>
<text transform="translate(80 996.2) rotate(-90)" text-anchor="middle" font-size="32.5" font-weight="bold" fill="#1a1a1a" textLength="424" lengthAdjust="spacingAndGlyphs">perpendicular baseline(m)</text>
<text x="1584" y="836.7" font-size="61" font-weight="bold" fill="#000">(b)</text>
<path d="M550.9 1429.2V1942.9M935.4 1429.2V1942.9M1320.0 1429.2V1942.9M166.3 1514.8H1704.5M166.3 1600.4H1704.5M166.3 1686.1H1704.5M166.3 1771.7H1704.5M166.3 1857.3H1704.5" stroke="#e3e3e3" stroke-width="2" fill="none"/>
<path d="M166.3 1942.9v-15M166.3 1429.2v15M243.2 1942.9v-7M243.2 1429.2v7M320.1 1942.9v-7M320.1 1429.2v7M397.0 1942.9v-7M397.0 1429.2v7M473.9 1942.9v-7M473.9 1429.2v7M550.9 1942.9v-15M550.9 1429.2v15M627.8 1942.9v-7M627.8 1429.2v7M704.7 1942.9v-7M704.7 1429.2v7M781.6 1942.9v-7M781.6 1429.2v7M858.5 1942.9v-7M858.5 1429.2v7M935.4 1942.9v-15M935.4 1429.2v15M1012.3 1942.9v-7M1012.3 1429.2v7M1089.2 1942.9v-7M1089.2 1429.2v7M1166.1 1942.9v-7M1166.1 1429.2v7M1243.0 1942.9v-7M1243.0 1429.2v7M1320.0 1942.9v-15M1320.0 1429.2v15M1396.9 1942.9v-7M1396.9 1429.2v7M1473.8 1942.9v-7M1473.8 1429.2v7M1550.7 1942.9v-7M1550.7 1429.2v7M1627.6 1942.9v-7M1627.6 1429.2v7M1704.5 1942.9v-15M1704.5 1429.2v15M166.3 1429.2h15M1704.5 1429.2h-15M166.3 1446.3h7M1704.5 1446.3h-7M166.3 1463.4h7M1704.5 1463.4h-7M166.3 1480.6h7M1704.5 1480.6h-7M166.3 1497.7h7M1704.5 1497.7h-7M166.3 1514.8h15M1704.5 1514.8h-15M166.3 1531.9h7M1704.5 1531.9h-7M166.3 1549.1h7M1704.5 1549.1h-7M166.3 1566.2h7M1704.5 1566.2h-7M166.3 1583.3h7M1704.5 1583.3h-7M166.3 1600.4h15M1704.5 1600.4h-15M166.3 1617.6h7M1704.5 1617.6h-7M166.3 1634.7h7M1704.5 1634.7h-7M166.3 1651.8h7M1704.5 1651.8h-7M166.3 1668.9h7M1704.5 1668.9h-7M166.3 1686.1h15M1704.5 1686.1h-15M166.3 1703.2h7M1704.5 1703.2h-7M166.3 1720.3h7M1704.5 1720.3h-7M166.3 1737.4h7M1704.5 1737.4h-7M166.3 1754.5h7M1704.5 1754.5h-7M166.3 1771.7h15M1704.5 1771.7h-15M166.3 1788.8h7M1704.5 1788.8h-7M166.3 1805.9h7M1704.5 1805.9h-7M166.3 1823.0h7M1704.5 1823.0h-7M166.3 1840.2h7M1704.5 1840.2h-7M166.3 1857.3h15M1704.5 1857.3h-15M166.3 1874.4h7M1704.5 1874.4h-7M166.3 1891.5h7M1704.5 1891.5h-7M166.3 1908.7h7M1704.5 1908.7h-7M166.3 1925.8h7M1704.5 1925.8h-7M166.3 1942.9h15M1704.5 1942.9h-15" stroke="#8a8a8a" stroke-width="2.6" fill="none"/>
<g stroke="#ee9096" stroke-width="2.8" fill="none"><circle cx="177.1" cy="1598.7" r="10.2"/><circle cx="189.8" cy="1706.6" r="10.2"/><circle cx="202.4" cy="1656.9" r="10.2"/><circle cx="215.1" cy="1615.8" r="10.2"/><circle cx="227.7" cy="1605.6" r="10.2"/><circle cx="240.4" cy="1583.3" r="10.2"/><circle cx="253.0" cy="1626.1" r="10.2"/><circle cx="265.7" cy="1587.6" r="10.2"/><circle cx="278.3" cy="1593.6" r="10.2"/><circle cx="291.0" cy="1554.2" r="10.2"/><circle cx="303.6" cy="1775.1" r="10.2"/><circle cx="316.3" cy="1708.3" r="10.2"/><circle cx="329.0" cy="1650.1" r="10.2"/><circle cx="341.6" cy="1589.5" r="10.2"/><circle cx="354.3" cy="1540.5" r="10.2"/><circle cx="366.9" cy="1565.3" r="10.2"/><circle cx="379.6" cy="1723.7" r="10.2"/><circle cx="392.2" cy="1596.3" r="10.2"/><circle cx="404.9" cy="1668.2" r="10.2"/><circle cx="417.5" cy="1634.7" r="10.2"/><circle cx="430.2" cy="1624.4" r="10.2"/><circle cx="442.9" cy="1699.7" r="10.2"/><circle cx="455.5" cy="1711.7" r="10.2"/><circle cx="468.2" cy="1786.2" r="10.2"/><circle cx="480.8" cy="1528.5" r="10.2"/><circle cx="493.5" cy="1437.8" r="10.2"/><circle cx="506.1" cy="1605.6" r="10.2"/><circle cx="518.8" cy="1617.6" r="10.2"/><circle cx="531.4" cy="1639.0" r="10.2"/><circle cx="544.1" cy="1648.0" r="10.2"/><circle cx="556.8" cy="1468.6" r="10.2"/><circle cx="569.4" cy="1647.5" r="10.2"/><circle cx="582.1" cy="1634.7" r="10.2"/><circle cx="594.7" cy="1645.0" r="10.2"/><circle cx="607.4" cy="1702.0" r="10.2"/><circle cx="620.0" cy="1698.6" r="10.2"/><circle cx="632.7" cy="1576.5" r="10.2"/><circle cx="645.3" cy="1736.6" r="10.2"/><circle cx="658.0" cy="1682.6" r="10.2"/><circle cx="670.6" cy="1871.0" r="10.2"/><circle cx="683.3" cy="1559.3" r="10.2"/><circle cx="696.0" cy="1595.6" r="10.2"/><circle cx="708.6" cy="1720.8" r="10.2"/><circle cx="721.3" cy="1562.4" r="10.2"/><circle cx="733.9" cy="1658.1" r="10.2"/><circle cx="746.6" cy="1574.7" r="10.2"/><circle cx="759.2" cy="1606.3" r="10.2"/><circle cx="771.9" cy="1669.3" r="10.2"/><circle cx="784.5" cy="1846.7" r="10.2"/><circle cx="797.2" cy="1829.9" r="10.2"/><circle cx="809.9" cy="1703.2" r="10.2"/><circle cx="822.5" cy="1573.9" r="10.2"/><circle cx="835.2" cy="1696.3" r="10.2"/><circle cx="847.8" cy="1643.2" r="10.2"/><circle cx="860.5" cy="1651.8" r="10.2"/><circle cx="873.1" cy="1734.9" r="10.2"/><circle cx="885.8" cy="1660.4" r="10.2"/><circle cx="898.4" cy="1501.1" r="10.2"/><circle cx="911.1" cy="1555.4" r="10.2"/><circle cx="923.7" cy="1633.0" r="10.2"/><circle cx="936.4" cy="1643.2" r="10.2"/><circle cx="949.1" cy="1615.0" r="10.2"/><circle cx="961.7" cy="1555.9" r="10.2"/><circle cx="974.4" cy="1551.3" r="10.2"/><circle cx="987.0" cy="1652.7" r="10.2"/><circle cx="999.7" cy="1673.2" r="10.2"/><circle cx="1012.3" cy="1748.6" r="10.2"/><circle cx="1025.0" cy="1620.3" r="10.2"/><circle cx="1037.6" cy="1595.3" r="10.2"/><circle cx="1050.3" cy="1704.9" r="10.2"/><circle cx="1062.9" cy="1762.2" r="10.2"/><circle cx="1075.6" cy="1651.8" r="10.2"/><circle cx="1088.3" cy="1667.2" r="10.2"/><circle cx="1100.9" cy="1467.7" r="10.2"/><circle cx="1113.6" cy="1609.7" r="10.2"/><circle cx="1126.2" cy="1637.8" r="10.2"/><circle cx="1138.9" cy="1624.2" r="10.2"/><circle cx="1151.5" cy="1588.3" r="10.2"/><circle cx="1164.2" cy="1583.3" r="10.2"/><circle cx="1176.8" cy="1703.2" r="10.2"/><circle cx="1189.5" cy="1845.1" r="10.2"/><circle cx="1214.8" cy="1722.0" r="10.2"/><circle cx="1227.5" cy="1608.5" r="10.2"/><circle cx="1240.1" cy="1607.3" r="10.2"/><circle cx="1252.8" cy="1639.0" r="10.2"/><circle cx="1265.4" cy="1734.9" r="10.2"/><circle cx="1278.1" cy="1760.2" r="10.2"/><circle cx="1290.7" cy="1503.9" r="10.2"/><circle cx="1303.4" cy="1634.7" r="10.2"/><circle cx="1316.0" cy="1511.6" r="10.2"/><circle cx="1328.7" cy="1546.5" r="10.2"/><circle cx="1341.4" cy="1660.4" r="10.2"/><circle cx="1354.0" cy="1673.2" r="10.2"/><circle cx="1366.7" cy="1617.6" r="10.2"/><circle cx="1379.3" cy="1609.0" r="10.2"/><circle cx="1392.0" cy="1614.1" r="10.2"/><circle cx="1404.6" cy="1639.8" r="10.2"/><circle cx="1417.3" cy="1567.4" r="10.2"/><circle cx="1429.9" cy="1674.9" r="10.2"/><circle cx="1442.6" cy="1582.5" r="10.2"/><circle cx="1455.3" cy="1676.6" r="10.2"/><circle cx="1467.9" cy="1555.1" r="10.2"/><circle cx="1518.5" cy="1598.2" r="10.2"/><circle cx="1556.5" cy="1548.2" r="10.2"/><circle cx="1569.1" cy="1581.6" r="10.2"/><circle cx="1581.8" cy="1662.9" r="10.2"/><circle cx="1594.5" cy="1717.7" r="10.2"/><circle cx="1607.1" cy="1805.9" r="10.2"/><circle cx="1619.8" cy="1705.4" r="10.2"/><circle cx="1632.4" cy="1622.7" r="10.2"/><circle cx="1657.7" cy="1636.9" r="10.2"/></g>
<path d="M177.1 1598.7L189.8 1706.6M177.1 1598.7L215.1 1615.8M177.1 1598.7L227.7 1605.6M177.1 1598.7L240.4 1583.3M177.1 1598.7L253.0 1626.1M177.1 1598.7L265.7 1587.6M177.1 1598.7L278.3 1593.6M177.1 1598.7L291.0 1554.2M177.1 1598.7L329.0 1650.1M189.8 1706.6L215.1 1615.8M189.8 1706.6L227.7 1605.6M189.8 1706.6L240.4 1583.3M189.8 1706.6L253.0 1626.1M189.8 1706.6L265.7 1587.6M189.8 1706.6L278.3 1593.6M189.8 1706.6L291.0 1554.2M189.8 1706.6L303.6 1775.1M189.8 1706.6L316.3 1708.3M189.8 1706.6L329.0 1650.1M202.4 1656.9L240.4 1583.3M202.4 1656.9L253.0 1626.1M202.4 1656.9L265.7 1587.6M202.4 1656.9L278.3 1593.6M202.4 1656.9L316.3 1708.3M202.4 1656.9L329.0 1650.1M215.1 1615.8L316.3 1708.3M215.1 1615.8L329.0 1650.1M240.4 1583.3L341.6 1589.5M253.0 1626.1L316.3 1708.3M265.7 1587.6L316.3 1708.3M265.7 1587.6L329.0 1650.1M265.7 1587.6L341.6 1589.5M278.3 1593.6L329.0 1650.1M278.3 1593.6L341.6 1589.5M291.0 1554.2L316.3 1708.3M291.0 1554.2L329.0 1650.1M291.0 1554.2L341.6 1589.5M291.0 1554.2L354.3 1540.5M303.6 1775.1L316.3 1708.3M316.3 1708.3L329.0 1650.1M316.3 1708.3L341.6 1589.5M341.6 1589.5L354.3 1540.5M341.6 1589.5L366.9 1565.3M354.3 1540.5L392.2 1596.3M366.9 1565.3L392.2 1596.3M379.6 1723.7L392.2 1596.3M379.6 1723.7L404.9 1668.2M379.6 1723.7L442.9 1699.7M379.6 1723.7L455.5 1711.7M392.2 1596.3L404.9 1668.2M392.2 1596.3L417.5 1634.7M392.2 1596.3L430.2 1624.4M392.2 1596.3L442.9 1699.7M392.2 1596.3L506.1 1605.6M392.2 1596.3L518.8 1617.6M404.9 1668.2L480.8 1528.5M404.9 1668.2L506.1 1605.6M404.9 1668.2L518.8 1617.6M404.9 1668.2L531.4 1639.0M404.9 1668.2L544.1 1648.0M417.5 1634.7L430.2 1624.4M417.5 1634.7L480.8 1528.5M417.5 1634.7L506.1 1605.6M417.5 1634.7L518.8 1617.6M417.5 1634.7L531.4 1639.0M417.5 1634.7L544.1 1648.0M417.5 1634.7L569.4 1647.5M430.2 1624.4L480.8 1528.5M430.2 1624.4L506.1 1605.6M430.2 1624.4L518.8 1617.6M430.2 1624.4L531.4 1639.0M430.2 1624.4L544.1 1648.0M430.2 1624.4L569.4 1647.5M430.2 1624.4L582.1 1634.7M442.9 1699.7L468.2 1786.2M442.9 1699.7L480.8 1528.5M442.9 1699.7L506.1 1605.6M442.9 1699.7L518.8 1617.6M442.9 1699.7L531.4 1639.0M442.9 1699.7L544.1 1648.0M442.9 1699.7L569.4 1647.5M442.9 1699.7L594.7 1645.0M442.9 1699.7L607.4 1702.0M442.9 1699.7L658.0 1682.6M455.5 1711.7L468.2 1786.2M455.5 1711.7L480.8 1528.5M455.5 1711.7L506.1 1605.6M455.5 1711.7L531.4 1639.0M455.5 1711.7L544.1 1648.0M455.5 1711.7L607.4 1702.0M455.5 1711.7L658.0 1682.6M468.2 1786.2L531.4 1639.0M468.2 1786.2L544.1 1648.0M468.2 1786.2L569.4 1647.5M468.2 1786.2L594.7 1645.0M468.2 1786.2L607.4 1702.0M468.2 1786.2L620.0 1698.6M480.8 1528.5L493.5 1437.8M480.8 1528.5L556.8 1468.6M480.8 1528.5L607.4 1702.0M480.8 1528.5L620.0 1698.6M480.8 1528.5L645.3 1736.6M480.8 1528.5L658.0 1682.6M493.5 1437.8L506.1 1605.6M493.5 1437.8L518.8 1617.6M493.5 1437.8L531.4 1639.0M493.5 1437.8L544.1 1648.0M493.5 1437.8L556.8 1468.6M493.5 1437.8L569.4 1647.5M493.5 1437.8L582.1 1634.7M493.5 1437.8L594.7 1645.0M493.5 1437.8L607.4 1702.0M493.5 1437.8L620.0 1698.6M493.5 1437.8L632.7 1576.5M493.5 1437.8L645.3 1736.6M493.5 1437.8L658.0 1682.6M506.1 1605.6L518.8 1617.6M506.1 1605.6L607.4 1702.0M506.1 1605.6L620.0 1698.6M506.1 1605.6L645.3 1736.6M506.1 1605.6L658.0 1682.6M518.8 1617.6L531.4 1639.0M518.8 1617.6L582.1 1634.7M518.8 1617.6L607.4 1702.0M518.8 1617.6L620.0 1698.6M518.8 1617.6L645.3 1736.6M518.8 1617.6L658.0 1682.6M531.4 1639.0L544.1 1648.0M531.4 1639.0L569.4 1647.5M531.4 1639.0L582.1 1634.7M531.4 1639.0L594.7 1645.0M531.4 1639.0L607.4 1702.0M531.4 1639.0L620.0 1698.6M531.4 1639.0L645.3 1736.6M531.4 1639.0L658.0 1682.6M544.1 1648.0L569.4 1647.5M544.1 1648.0L582.1 1634.7M544.1 1648.0L594.7 1645.0M544.1 1648.0L607.4 1702.0M544.1 1648.0L620.0 1698.6M544.1 1648.0L645.3 1736.6M544.1 1648.0L658.0 1682.6M556.8 1468.6L594.7 1645.0M556.8 1468.6L607.4 1702.0M556.8 1468.6L620.0 1698.6M556.8 1468.6L632.7 1576.5M556.8 1468.6L645.3 1736.6M556.8 1468.6L658.0 1682.6M556.8 1468.6L696.0 1595.6M569.4 1647.5L582.1 1634.7M569.4 1647.5L594.7 1645.0M569.4 1647.5L607.4 1702.0M569.4 1647.5L620.0 1698.6M569.4 1647.5L632.7 1576.5M569.4 1647.5L645.3 1736.6M569.4 1647.5L658.0 1682.6M582.1 1634.7L594.7 1645.0M582.1 1634.7L607.4 1702.0M582.1 1634.7L620.0 1698.6M582.1 1634.7L632.7 1576.5M582.1 1634.7L645.3 1736.6M582.1 1634.7L658.0 1682.6M594.7 1645.0L607.4 1702.0M594.7 1645.0L620.0 1698.6M594.7 1645.0L632.7 1576.5M594.7 1645.0L645.3 1736.6M594.7 1645.0L658.0 1682.6M632.7 1576.5L658.0 1682.6M632.7 1576.5L683.3 1559.3M632.7 1576.5L696.0 1595.6M632.7 1576.5L721.3 1562.4M645.3 1736.6L658.0 1682.6M645.3 1736.6L670.6 1871.0M645.3 1736.6L696.0 1595.6M645.3 1736.6L708.6 1720.8M658.0 1682.6L670.6 1871.0M658.0 1682.6L696.0 1595.6M658.0 1682.6L708.6 1720.8M683.3 1559.3L696.0 1595.6M683.3 1559.3L721.3 1562.4M683.3 1559.3L746.6 1574.7M696.0 1595.6L708.6 1720.8M696.0 1595.6L721.3 1562.4M696.0 1595.6L733.9 1658.1M696.0 1595.6L771.9 1669.3M696.0 1595.6L809.9 1703.2M708.6 1720.8L733.9 1658.1M708.6 1720.8L771.9 1669.3M721.3 1562.4L733.9 1658.1M721.3 1562.4L746.6 1574.7M721.3 1562.4L759.2 1606.3M733.9 1658.1L771.9 1669.3M733.9 1658.1L809.9 1703.2M733.9 1658.1L847.8 1643.2M733.9 1658.1L860.5 1651.8M733.9 1658.1L885.8 1660.4M733.9 1658.1L936.4 1643.2M746.6 1574.7L759.2 1606.3M746.6 1574.7L771.9 1669.3M746.6 1574.7L822.5 1573.9M759.2 1606.3L771.9 1669.3M759.2 1606.3L822.5 1573.9M759.2 1606.3L949.1 1615.0M771.9 1669.3L809.9 1703.2M771.9 1669.3L822.5 1573.9M771.9 1669.3L847.8 1643.2M771.9 1669.3L885.8 1660.4M771.9 1669.3L999.7 1673.2M784.5 1846.7L797.2 1829.9M784.5 1846.7L809.9 1703.2M797.2 1829.9L873.1 1734.9M809.9 1703.2L822.5 1573.9M809.9 1703.2L835.2 1696.3M809.9 1703.2L847.8 1643.2M809.9 1703.2L873.1 1734.9M822.5 1573.9L835.2 1696.3M822.5 1573.9L847.8 1643.2M822.5 1573.9L860.5 1651.8M822.5 1573.9L873.1 1734.9M822.5 1573.9L885.8 1660.4M822.5 1573.9L898.4 1501.1M822.5 1573.9L911.1 1555.4M835.2 1696.3L873.1 1734.9M847.8 1643.2L860.5 1651.8M847.8 1643.2L873.1 1734.9M847.8 1643.2L898.4 1501.1M847.8 1643.2L923.7 1633.0M847.8 1643.2L936.4 1643.2M847.8 1643.2L949.1 1615.0M847.8 1643.2L987.0 1652.7M847.8 1643.2L999.7 1673.2M847.8 1643.2L1012.3 1748.6M847.8 1643.2L1025.0 1620.3M847.8 1643.2L1037.6 1595.3M847.8 1643.2L1075.6 1651.8M847.8 1643.2L1088.3 1667.2M860.5 1651.8L873.1 1734.9M860.5 1651.8L885.8 1660.4M860.5 1651.8L898.4 1501.1M860.5 1651.8L936.4 1643.2M860.5 1651.8L987.0 1652.7M860.5 1651.8L1075.6 1651.8M860.5 1651.8L1088.3 1667.2M873.1 1734.9L885.8 1660.4M873.1 1734.9L911.1 1555.4M873.1 1734.9L923.7 1633.0M873.1 1734.9L936.4 1643.2M873.1 1734.9L949.1 1615.0M873.1 1734.9L1012.3 1748.6M885.8 1660.4L898.4 1501.1M885.8 1660.4L987.0 1652.7M885.8 1660.4L999.7 1673.2M885.8 1660.4L1012.3 1748.6M885.8 1660.4L1075.6 1651.8M885.8 1660.4L1088.3 1667.2M898.4 1501.1L911.1 1555.4M898.4 1501.1L923.7 1633.0M898.4 1501.1L936.4 1643.2M898.4 1501.1L949.1 1615.0M898.4 1501.1L961.7 1555.9M898.4 1501.1L974.4 1551.3M898.4 1501.1L987.0 1652.7M898.4 1501.1L999.7 1673.2M898.4 1501.1L1037.6 1595.3M911.1 1555.4L923.7 1633.0M911.1 1555.4L936.4 1643.2M911.1 1555.4L949.1 1615.0M911.1 1555.4L961.7 1555.9M911.1 1555.4L987.0 1652.7M911.1 1555.4L999.7 1673.2M911.1 1555.4L1012.3 1748.6M911.1 1555.4L1025.0 1620.3M911.1 1555.4L1037.6 1595.3M923.7 1633.0L936.4 1643.2M923.7 1633.0L961.7 1555.9M923.7 1633.0L974.4 1551.3M923.7 1633.0L987.0 1652.7M923.7 1633.0L999.7 1673.2M923.7 1633.0L1012.3 1748.6M923.7 1633.0L1025.0 1620.3M923.7 1633.0L1037.6 1595.3M923.7 1633.0L1075.6 1651.8M923.7 1633.0L1088.3 1667.2M923.7 1633.0L1126.2 1637.8M923.7 1633.0L1138.9 1624.2M936.4 1643.2L961.7 1555.9M936.4 1643.2L974.4 1551.3M936.4 1643.2L987.0 1652.7M936.4 1643.2L1012.3 1748.6M936.4 1643.2L1037.6 1595.3M936.4 1643.2L1075.6 1651.8M936.4 1643.2L1126.2 1637.8M949.1 1615.0L961.7 1555.9M949.1 1615.0L987.0 1652.7M949.1 1615.0L999.7 1673.2M949.1 1615.0L1012.3 1748.6M949.1 1615.0L1025.0 1620.3M949.1 1615.0L1037.6 1595.3M949.1 1615.0L1075.6 1651.8M949.1 1615.0L1113.6 1609.7M949.1 1615.0L1138.9 1624.2M961.7 1555.9L974.4 1551.3M961.7 1555.9L987.0 1652.7M961.7 1555.9L999.7 1673.2M961.7 1555.9L1012.3 1748.6M961.7 1555.9L1025.0 1620.3M961.7 1555.9L1037.6 1595.3M974.4 1551.3L987.0 1652.7M974.4 1551.3L999.7 1673.2M974.4 1551.3L1012.3 1748.6M974.4 1551.3L1025.0 1620.3M974.4 1551.3L1037.6 1595.3M974.4 1551.3L1075.6 1651.8M974.4 1551.3L1088.3 1667.2M987.0 1652.7L1012.3 1748.6M987.0 1652.7L1037.6 1595.3M987.0 1652.7L1050.3 1704.9M987.0 1652.7L1062.9 1762.2M987.0 1652.7L1075.6 1651.8M987.0 1652.7L1088.3 1667.2M987.0 1652.7L1126.2 1637.8M999.7 1673.2L1012.3 1748.6M999.7 1673.2L1037.6 1595.3M999.7 1673.2L1050.3 1704.9M999.7 1673.2L1062.9 1762.2M999.7 1673.2L1088.3 1667.2M1012.3 1748.6L1037.6 1595.3M1012.3 1748.6L1062.9 1762.2M1025.0 1620.3L1037.6 1595.3M1025.0 1620.3L1062.9 1762.2M1025.0 1620.3L1088.3 1667.2M1025.0 1620.3L1113.6 1609.7M1025.0 1620.3L1138.9 1624.2M1037.6 1595.3L1050.3 1704.9M1037.6 1595.3L1062.9 1762.2M1037.6 1595.3L1075.6 1651.8M1037.6 1595.3L1088.3 1667.2M1037.6 1595.3L1113.6 1609.7M1037.6 1595.3L1126.2 1637.8M1050.3 1704.9L1062.9 1762.2M1050.3 1704.9L1088.3 1667.2M1062.9 1762.2L1088.3 1667.2M1075.6 1651.8L1088.3 1667.2M1075.6 1651.8L1100.9 1467.7M1075.6 1651.8L1126.2 1637.8M1088.3 1667.2L1100.9 1467.7M1088.3 1667.2L1113.6 1609.7M1088.3 1667.2L1126.2 1637.8M1088.3 1667.2L1138.9 1624.2M1100.9 1467.7L1113.6 1609.7M1113.6 1609.7L1126.2 1637.8M1113.6 1609.7L1138.9 1624.2M1113.6 1609.7L1151.5 1588.3M1113.6 1609.7L1164.2 1583.3M1126.2 1637.8L1138.9 1624.2M1126.2 1637.8L1151.5 1588.3M1126.2 1637.8L1164.2 1583.3M1126.2 1637.8L1176.8 1703.2M1138.9 1624.2L1151.5 1588.3M1138.9 1624.2L1164.2 1583.3M1138.9 1624.2L1176.8 1703.2M1151.5 1588.3L1164.2 1583.3M1164.2 1583.3L1176.8 1703.2M1176.8 1703.2L1214.8 1722.0M1176.8 1703.2L1227.5 1608.5M1176.8 1703.2L1240.1 1607.3M1176.8 1703.2L1278.1 1760.2M1189.5 1845.1L1214.8 1722.0M1189.5 1845.1L1265.4 1734.9M1214.8 1722.0L1227.5 1608.5M1214.8 1722.0L1278.1 1760.2M1227.5 1608.5L1240.1 1607.3M1227.5 1608.5L1252.8 1639.0M1227.5 1608.5L1265.4 1734.9M1227.5 1608.5L1278.1 1760.2M1227.5 1608.5L1366.7 1617.6M1227.5 1608.5L1379.3 1609.0M1227.5 1608.5L1392.0 1614.1M1227.5 1608.5L1417.3 1567.4M1240.1 1607.3L1252.8 1639.0M1240.1 1607.3L1265.4 1734.9M1240.1 1607.3L1278.1 1760.2M1240.1 1607.3L1354.0 1673.2M1240.1 1607.3L1366.7 1617.6M1240.1 1607.3L1379.3 1609.0M1240.1 1607.3L1392.0 1614.1M1252.8 1639.0L1303.4 1634.7M1252.8 1639.0L1341.4 1660.4M1252.8 1639.0L1354.0 1673.2M1252.8 1639.0L1392.0 1614.1M1252.8 1639.0L1404.6 1639.8M1265.4 1734.9L1278.1 1760.2M1278.1 1760.2L1354.0 1673.2M1278.1 1760.2L1392.0 1614.1M1278.1 1760.2L1404.6 1639.8M1278.1 1760.2L1417.3 1567.4M1278.1 1760.2L1429.9 1674.9M1278.1 1760.2L1455.3 1676.6M1290.7 1503.9L1316.0 1511.6M1290.7 1503.9L1328.7 1546.5M1303.4 1634.7L1366.7 1617.6M1303.4 1634.7L1392.0 1614.1M1303.4 1634.7L1404.6 1639.8M1316.0 1511.6L1328.7 1546.5M1316.0 1511.6L1354.0 1673.2M1328.7 1546.5L1341.4 1660.4M1328.7 1546.5L1354.0 1673.2M1328.7 1546.5L1392.0 1614.1M1328.7 1546.5L1417.3 1567.4M1328.7 1546.5L1429.9 1674.9M1341.4 1660.4L1354.0 1673.2M1341.4 1660.4L1404.6 1639.8M1341.4 1660.4L1429.9 1674.9M1341.4 1660.4L1455.3 1676.6M1354.0 1673.2L1429.9 1674.9M1354.0 1673.2L1455.3 1676.6M1366.7 1617.6L1379.3 1609.0M1366.7 1617.6L1392.0 1614.1M1366.7 1617.6L1417.3 1567.4M1379.3 1609.0L1392.0 1614.1M1379.3 1609.0L1417.3 1567.4M1392.0 1614.1L1417.3 1567.4M1392.0 1614.1L1429.9 1674.9M1392.0 1614.1L1455.3 1676.6M1404.6 1639.8L1417.3 1567.4M1404.6 1639.8L1429.9 1674.9M1404.6 1639.8L1455.3 1676.6M1417.3 1567.4L1429.9 1674.9M1417.3 1567.4L1442.6 1582.5M1417.3 1567.4L1455.3 1676.6M1417.3 1567.4L1467.9 1555.1M1429.9 1674.9L1455.3 1676.6M1429.9 1674.9L1467.9 1555.1M1442.6 1582.5L1467.9 1555.1M1455.3 1676.6L1467.9 1555.1M1467.9 1555.1L1518.5 1598.2M1518.5 1598.2L1556.5 1548.2M1518.5 1598.2L1569.1 1581.6M1518.5 1598.2L1581.8 1662.9M1556.5 1548.2L1569.1 1581.6M1556.5 1548.2L1594.5 1717.7M1569.1 1581.6L1632.4 1622.7M1581.8 1662.9L1594.5 1717.7M1581.8 1662.9L1619.8 1705.4M1581.8 1662.9L1632.4 1622.7M1581.8 1662.9L1657.7 1636.9M1594.5 1717.7L1607.1 1805.9M1594.5 1717.7L1619.8 1705.4M1594.5 1717.7L1632.4 1622.7M1607.1 1805.9L1619.8 1705.4M1619.8 1705.4L1632.4 1622.7M1619.8 1705.4L1657.7 1636.9M1632.4 1622.7L1657.7 1636.9" stroke="#0000ee" stroke-width="3.4" fill="none" stroke-linecap="round"/>
<rect x="166.3" y="1429.2" width="1538.2" height="513.7" stroke="#999" stroke-width="2.8" fill="none"/>
<g font-size="30" font-weight="bold" fill="#262626"><text x="157" y="1439.7" text-anchor="end">100</text><text x="157" y="1525.3" text-anchor="end">50</text><text x="157" y="1610.9" text-anchor="end">0</text><text x="157" y="1696.6" text-anchor="end">-50</text><text x="157" y="1782.2" text-anchor="end">-100</text><text x="157" y="1867.8" text-anchor="end">-150</text><text x="157" y="1953.4" text-anchor="end">-200</text><text x="166.3" y="1985.9" text-anchor="middle">2018/01/01</text><text x="550.9" y="1985.9" text-anchor="middle">2019/01/01</text><text x="935.4" y="1985.9" text-anchor="middle">2020/01/01</text><text x="1320.0" y="1985.9" text-anchor="middle">2021/01/01</text><text x="1704.5" y="1985.9" text-anchor="middle">2022/01/01</text></g>
<text x="937.5" y="2030.9" text-anchor="middle" font-size="34.5" font-weight="bold" fill="#1a1a1a" textLength="73" lengthAdjust="spacingAndGlyphs">Date</text>
<text transform="translate(80 1685.6) rotate(-90)" text-anchor="middle" font-size="32.5" font-weight="bold" fill="#1a1a1a" textLength="424" lengthAdjust="spacingAndGlyphs">perpendicular baseline(m)</text>
<text x="1584" y="1498.3" font-size="61" font-weight="bold" fill="#000">(c)</text>
</svg>
</body></html>
